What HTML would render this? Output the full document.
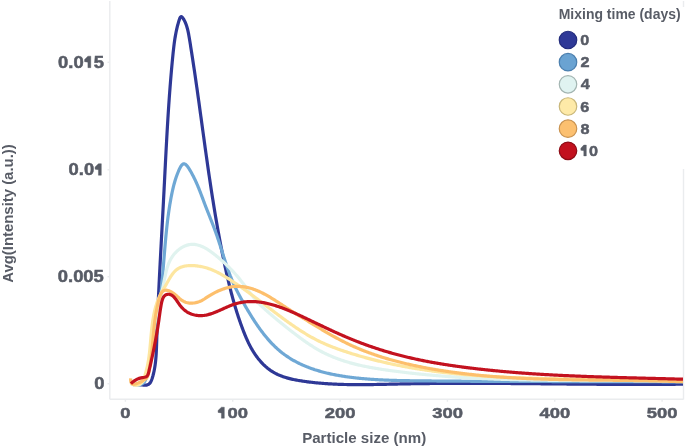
<!DOCTYPE html>
<html><head><meta charset="utf-8"><style>
html,body{margin:0;padding:0;background:#fff;width:685px;height:448px;overflow:hidden}
svg{display:block;filter:blur(0.5px)}
text{font-family:"Liberation Sans",sans-serif;font-weight:bold;fill:#585c66}
.dg{stroke:#585c66;stroke-width:0.5px}
.one path{fill:#585c66;stroke:#585c66;stroke-width:0.4px;stroke-linejoin:round}
.tk line{stroke:#eaecee;stroke-width:1.4}
.curves path{fill:none;stroke-width:3.2;stroke-linejoin:round;stroke-linecap:butt}
</style></head><body>
<svg width="685" height="448" viewBox="0 0 685 448">
<rect x="0" y="0" width="685" height="448" fill="#fff"/>
<g class="tk">
<line x1="109.8" y1="1" x2="109.8" y2="399.3"/>
<line x1="109.8" y1="399.3" x2="683.5" y2="399.3"/>
<line x1="683.5" y1="1" x2="683.5" y2="7"/>
<line x1="683.5" y1="169" x2="683.5" y2="399.5"/>
<line x1="107.5" y1="62.3" x2="109.5" y2="62.3"/>
<line x1="107.5" y1="169.8" x2="109.5" y2="169.8"/>
<line x1="107.5" y1="276.7" x2="109.5" y2="276.7"/>
<line x1="107.5" y1="383.7" x2="109.5" y2="383.7"/>
<line x1="125.40" y1="399.5" x2="125.40" y2="401.8"/>
<line x1="232.74" y1="399.5" x2="232.74" y2="401.8"/>
<line x1="340.08" y1="399.5" x2="340.08" y2="401.8"/>
<line x1="447.42" y1="399.5" x2="447.42" y2="401.8"/>
<line x1="554.76" y1="399.5" x2="554.76" y2="401.8"/>
<line x1="662.10" y1="399.5" x2="662.10" y2="401.8"/>
</g>
<g transform="translate(58.04,67.67) scale(1.130,1)"><text style="font-size:16.30px" class="dg">0.0<tspan style="fill:none;stroke:none">1</tspan>5</text><g class="one"><path d="M26.44,-11.49 L28.98,-11.49 L28.98,0.00 L26.44,0.00 L26.44,-5.54 L23.47,-6.03 L23.47,-8.15 Z"/></g></g>
<g transform="translate(68.56,175.22) scale(1.130,1)"><text style="font-size:16.30px" class="dg">0.0<tspan style="fill:none;stroke:none">1</tspan></text><g class="one"><path d="M26.44,-11.49 L28.98,-11.49 L28.98,0.00 L26.44,0.00 L26.44,-5.54 L23.47,-6.03 L23.47,-8.15 Z"/></g></g>
<text transform="translate(57.79,281.92) scale(1.130,1)" style="font-size:16.30px" class="dg" >0.005</text>
<text transform="translate(94.33,389.02) scale(1.130,1)" style="font-size:16.30px" class="dg" >0</text>
<text transform="translate(120.33,418.15) scale(1.190,1)" style="font-size:15.50px" class="dg" >0</text>
<g transform="translate(217.15,418.15) scale(1.190,1)"><text style="font-size:15.50px" class="dg"><tspan style="fill:none;stroke:none">1</tspan>00</text><g class="one"><path d="M3.60,-10.93 L6.01,-10.93 L6.01,0.00 L3.60,0.00 L3.60,-5.27 L0.78,-5.74 L0.78,-7.75 Z"/></g></g>
<text transform="translate(324.77,418.15) scale(1.190,1)" style="font-size:15.50px" class="dg" >200</text>
<text transform="translate(432.20,418.15) scale(1.190,1)" style="font-size:15.50px" class="dg" >300</text>
<text transform="translate(539.54,418.15) scale(1.190,1)" style="font-size:15.50px" class="dg" >400</text>
<text transform="translate(646.79,418.15) scale(1.190,1)" style="font-size:15.50px" class="dg" >500</text>
<text transform="translate(302.14,443.40) scale(0.980,1)" style="font-size:15.40px"  >Particle size (nm)</text>
<text transform="translate(558.72,19.40) scale(0.920,1)" style="font-size:15.20px"  >Mixing time (days)</text>
<text transform="translate(12.9,282.75) rotate(-90) scale(0.968,1)" style="font-size:15.40px">Avg(Intensity (a.u.))</text>

<circle cx="568" cy="40.00" r="8.75" fill="#2f3997" stroke="#232c7c" stroke-width="1.2"/>
<text transform="translate(580.35,45.08) scale(1.060,1)" style="font-size:15.30px" class="dg" >0</text>
<circle cx="568" cy="62.16" r="8.75" fill="#6aa3d2" stroke="#4b7fae" stroke-width="1.2"/>
<text transform="translate(580.51,67.31) scale(1.060,1)" style="font-size:15.30px" class="dg" >2</text>
<circle cx="568" cy="84.32" r="8.75" fill="#e0f3f1" stroke="#a3b5b2" stroke-width="1.2"/>
<text transform="translate(580.68,89.40) scale(1.060,1)" style="font-size:15.30px" class="dg" >4</text>
<circle cx="568" cy="106.48" r="8.75" fill="#feeaa8" stroke="#c9b77a" stroke-width="1.2"/>
<text transform="translate(580.35,111.56) scale(1.060,1)" style="font-size:15.30px" class="dg" >6</text>
<circle cx="568" cy="128.64" r="8.75" fill="#fcc070" stroke="#c9924f" stroke-width="1.2"/>
<text transform="translate(580.51,133.72) scale(1.060,1)" style="font-size:15.30px" class="dg" >8</text>
<circle cx="568" cy="150.80" r="8.75" fill="#c2111e" stroke="#8d0c16" stroke-width="1.2"/>
<g transform="translate(580.03,155.88) scale(1.060,1)"><text style="font-size:15.30px" class="dg"><tspan style="fill:none;stroke:none">1</tspan>0</text><g class="one"><path d="M3.55,-10.79 L5.94,-10.79 L5.94,0.00 L3.55,0.00 L3.55,-5.20 L0.77,-5.66 L0.77,-7.65 Z"/></g></g>

<g class="curves">
<path d="M133.00,384.60 L133.79,384.40 L134.67,384.30 L135.63,384.29 L136.64,384.34 L137.71,384.45 L138.81,384.58 L139.93,384.73 L141.06,384.89 L142.19,385.02 L143.31,385.12 L144.39,385.18 L145.43,385.16 L146.42,385.06 L147.34,384.87 L148.17,384.55 L148.92,384.11 L149.57,383.53 L150.14,382.85 L150.64,382.08 L151.08,381.23 L151.48,380.32 L151.83,379.37 L152.15,378.40 L152.45,377.42 L152.74,376.44 L153.02,375.46 L153.27,374.48 L153.52,373.50 L153.75,372.51 L153.97,371.53 L154.18,370.54 L154.37,369.56 L154.56,368.57 L154.73,367.58 L154.89,366.60 L155.04,365.61 L155.18,364.62 L155.31,363.63 L155.43,362.64 L155.55,361.65 L155.65,360.66 L155.75,359.66 L155.84,358.67 L155.92,357.68 L156.00,356.68 L156.07,355.69 L156.14,354.70 L156.20,353.70 L156.25,352.71 L156.31,351.71 L156.35,350.72 L156.40,349.72 L156.44,348.72 L156.48,347.73 L156.51,346.73 L156.55,345.73 L156.58,344.74 L156.61,343.74 L156.65,342.74 L156.68,341.75 L156.71,340.75 L156.75,339.75 L156.78,338.76 L156.81,337.76 L156.85,336.76 L156.88,335.76 L156.92,334.77 L156.95,333.77 L156.99,332.77 L157.02,331.77 L157.06,330.78 L157.10,329.78 L157.13,328.78 L157.17,327.78 L157.21,326.79 L157.25,325.79 L157.29,324.79 L157.33,323.79 L157.36,322.79 L157.40,321.80 L157.44,320.80 L157.48,319.80 L157.52,318.80 L157.56,317.80 L157.61,316.81 L157.65,315.81 L157.69,314.81 L157.73,313.81 L157.77,312.81 L157.81,311.81 L157.86,310.82 L157.90,309.82 L157.94,308.82 L157.99,307.82 L158.03,306.82 L158.08,305.82 L158.12,304.82 L158.16,303.83 L158.21,302.83 L158.25,301.83 L158.30,300.83 L158.35,299.83 L158.39,298.83 L158.44,297.83 L158.48,296.84 L158.53,295.84 L158.58,294.84 L158.62,293.84 L158.67,292.84 L158.72,291.84 L158.77,290.84 L158.81,289.84 L158.86,288.85 L158.91,287.85 L158.96,286.85 L159.01,285.85 L159.06,284.85 L159.10,283.85 L159.15,282.85 L159.20,281.85 L159.25,280.86 L159.30,279.86 L159.35,278.86 L159.40,277.86 L159.45,276.86 L159.50,275.86 L159.55,274.86 L159.60,273.86 L159.65,272.86 L159.71,271.87 L159.76,270.87 L159.81,269.87 L159.86,268.87 L159.91,267.87 L159.96,266.87 L160.01,265.87 L160.07,264.87 L160.12,263.88 L160.17,262.88 L160.22,261.88 L160.27,260.88 L160.33,259.88 L160.38,258.88 L160.43,257.88 L160.49,256.88 L160.54,255.89 L160.59,254.89 L160.64,253.89 L160.70,252.89 L160.75,251.89 L160.80,250.89 L160.86,249.89 L160.91,248.90 L160.96,247.90 L161.02,246.90 L161.07,245.90 L161.12,244.90 L161.18,243.90 L161.23,242.90 L161.28,241.91 L161.34,240.91 L161.39,239.91 L161.45,238.91 L161.50,237.91 L161.55,236.92 L161.61,235.92 L161.66,234.92 L161.72,233.92 L161.77,232.92 L161.82,231.92 L161.88,230.93 L161.93,229.93 L161.99,228.93 L162.04,227.93 L162.09,226.94 L162.15,225.94 L162.20,224.94 L162.25,223.94 L162.31,222.94 L162.36,221.95 L162.42,220.95 L162.47,219.95 L162.52,218.95 L162.58,217.96 L162.63,216.96 L162.68,215.96 L162.74,214.97 L162.79,213.97 L162.85,212.97 L162.90,211.97 L162.95,210.98 L163.00,209.98 L163.06,208.98 L163.11,207.99 L163.16,206.99 L163.22,205.99 L163.27,205.00 L163.32,204.00 L163.38,203.00 L163.43,202.01 L163.48,201.01 L163.53,200.01 L163.58,199.02 L163.64,198.02 L163.69,197.03 L163.74,196.03 L163.79,195.03 L163.84,194.04 L163.90,193.04 L163.95,192.05 L164.00,191.05 L164.05,190.05 L164.10,189.06 L164.15,188.06 L164.20,187.07 L164.25,186.07 L164.30,185.08 L164.35,184.08 L164.41,183.09 L164.46,182.09 L164.51,181.10 L164.56,180.10 L164.61,179.11 L164.66,178.11 L164.71,177.12 L164.76,176.12 L164.81,175.13 L164.86,174.13 L164.91,173.14 L164.96,172.14 L165.01,171.15 L165.06,170.15 L165.11,169.16 L165.16,168.16 L165.22,167.17 L165.27,166.17 L165.32,165.18 L165.37,164.18 L165.42,163.19 L165.47,162.19 L165.52,161.20 L165.57,160.20 L165.62,159.21 L165.68,158.21 L165.73,157.22 L165.78,156.22 L165.83,155.23 L165.88,154.23 L165.94,153.24 L165.99,152.25 L166.04,151.25 L166.09,150.26 L166.15,149.26 L166.20,148.27 L166.25,147.27 L166.31,146.28 L166.36,145.28 L166.41,144.29 L166.47,143.29 L166.52,142.30 L166.58,141.30 L166.63,140.31 L166.69,139.31 L166.74,138.31 L166.80,137.32 L166.85,136.32 L166.91,135.33 L166.97,134.33 L167.02,133.34 L167.08,132.34 L167.14,131.35 L167.19,130.35 L167.25,129.36 L167.31,128.36 L167.37,127.36 L167.43,126.37 L167.49,125.37 L167.55,124.38 L167.61,123.38 L167.67,122.38 L167.73,121.39 L167.79,120.39 L167.85,119.39 L167.91,118.40 L167.97,117.40 L168.04,116.40 L168.10,115.41 L168.16,114.41 L168.23,113.41 L168.29,112.42 L168.36,111.42 L168.42,110.42 L168.49,109.43 L168.55,108.43 L168.62,107.43 L168.69,106.43 L168.75,105.43 L168.82,104.44 L168.89,103.44 L168.96,102.44 L169.03,101.44 L169.10,100.44 L169.17,99.45 L169.24,98.45 L169.31,97.45 L169.38,96.45 L169.45,95.45 L169.53,94.45 L169.60,93.45 L169.68,92.45 L169.75,91.45 L169.83,90.45 L169.90,89.45 L169.98,88.45 L170.06,87.45 L170.13,86.45 L170.21,85.45 L170.29,84.45 L170.37,83.45 L170.45,82.45 L170.53,81.45 L170.61,80.45 L170.69,79.45 L170.78,78.44 L170.86,77.44 L170.94,76.44 L171.03,75.44 L171.11,74.44 L171.20,73.43 L171.29,72.43 L171.37,71.43 L171.46,70.43 L171.55,69.42 L171.64,68.42 L171.73,67.42 L171.82,66.41 L171.91,65.41 L172.01,64.40 L172.10,63.40 L172.19,62.40 L172.29,61.39 L172.39,60.39 L172.48,59.38 L172.58,58.38 L172.68,57.37 L172.78,56.36 L172.88,55.36 L172.98,54.35 L173.08,53.35 L173.18,52.34 L173.29,51.34 L173.40,50.33 L173.51,49.33 L173.62,48.33 L173.74,47.32 L173.86,46.32 L173.99,45.32 L174.11,44.32 L174.24,43.32 L174.38,42.33 L174.52,41.33 L174.66,40.34 L174.81,39.35 L174.97,38.36 L175.13,37.37 L175.29,36.38 L175.46,35.40 L175.64,34.42 L175.82,33.44 L176.01,32.47 L176.21,31.49 L176.41,30.52 L176.62,29.55 L176.84,28.59 L177.07,27.63 L177.30,26.67 L177.55,25.71 L177.80,24.76 L178.06,23.81 L178.33,22.87 L178.60,21.93 L178.89,20.99 L179.19,20.06 L179.50,19.14 L179.82,18.29 L180.17,17.56 L180.54,17.01 L180.96,16.70 L181.41,16.68 L181.89,16.93 L182.39,17.41 L182.91,18.05 L183.42,18.82 L183.91,19.66 L184.38,20.52 L184.81,21.40 L185.23,22.30 L185.61,23.21 L185.97,24.13 L186.31,25.07 L186.63,26.02 L186.93,26.98 L187.21,27.95 L187.47,28.93 L187.72,29.92 L187.95,30.91 L188.17,31.91 L188.38,32.92 L188.58,33.93 L188.77,34.95 L188.95,35.96 L189.13,36.98 L189.30,38.00 L189.47,39.02 L189.64,40.04 L189.80,41.06 L189.97,42.08 L190.13,43.09 L190.30,44.11 L190.46,45.12 L190.62,46.13 L190.78,47.14 L190.94,48.15 L191.10,49.16 L191.26,50.17 L191.42,51.17 L191.58,52.18 L191.74,53.18 L191.89,54.18 L192.05,55.19 L192.20,56.19 L192.36,57.19 L192.51,58.19 L192.67,59.18 L192.82,60.18 L192.97,61.18 L193.12,62.17 L193.27,63.17 L193.42,64.16 L193.57,65.15 L193.72,66.15 L193.87,67.14 L194.02,68.13 L194.16,69.12 L194.31,70.11 L194.46,71.10 L194.60,72.09 L194.75,73.07 L194.89,74.06 L195.04,75.05 L195.18,76.03 L195.33,77.02 L195.47,78.00 L195.61,78.99 L195.76,79.97 L195.90,80.96 L196.04,81.94 L196.18,82.93 L196.32,83.91 L196.46,84.89 L196.60,85.88 L196.74,86.86 L196.88,87.84 L197.02,88.82 L197.16,89.81 L197.30,90.79 L197.44,91.77 L197.58,92.75 L197.72,93.73 L197.85,94.72 L197.99,95.70 L198.13,96.68 L198.27,97.66 L198.40,98.65 L198.54,99.63 L198.68,100.61 L198.82,101.59 L198.95,102.58 L199.09,103.56 L199.22,104.54 L199.36,105.53 L199.50,106.51 L199.63,107.50 L199.77,108.48 L199.90,109.46 L200.04,110.45 L200.18,111.43 L200.31,112.42 L200.45,113.40 L200.58,114.39 L200.72,115.37 L200.85,116.36 L200.99,117.34 L201.12,118.33 L201.26,119.31 L201.39,120.30 L201.53,121.29 L201.66,122.27 L201.80,123.26 L201.93,124.24 L202.07,125.23 L202.21,126.22 L202.34,127.20 L202.48,128.19 L202.61,129.18 L202.75,130.16 L202.88,131.15 L203.02,132.14 L203.15,133.13 L203.29,134.11 L203.43,135.10 L203.56,136.09 L203.70,137.08 L203.83,138.06 L203.97,139.05 L204.11,140.04 L204.24,141.03 L204.38,142.02 L204.52,143.00 L204.65,143.99 L204.79,144.98 L204.93,145.97 L205.06,146.96 L205.20,147.95 L205.34,148.94 L205.48,149.92 L205.62,150.91 L205.75,151.90 L205.89,152.89 L206.03,153.88 L206.17,154.87 L206.31,155.86 L206.45,156.85 L206.59,157.83 L206.73,158.82 L206.87,159.81 L207.01,160.80 L207.15,161.79 L207.29,162.78 L207.43,163.77 L207.57,164.76 L207.72,165.75 L207.86,166.74 L208.00,167.73 L208.14,168.72 L208.29,169.70 L208.43,170.69 L208.58,171.68 L208.72,172.67 L208.86,173.66 L209.01,174.65 L209.15,175.64 L209.30,176.63 L209.45,177.62 L209.59,178.61 L209.74,179.60 L209.89,180.59 L210.03,181.58 L210.18,182.57 L210.33,183.55 L210.48,184.54 L210.63,185.53 L210.78,186.52 L210.93,187.51 L211.08,188.50 L211.23,189.49 L211.38,190.48 L211.54,191.47 L211.69,192.46 L211.84,193.44 L212.00,194.43 L212.15,195.42 L212.31,196.41 L212.46,197.40 L212.62,198.39 L212.77,199.38 L212.93,200.36 L213.09,201.35 L213.25,202.34 L213.40,203.33 L213.56,204.32 L213.72,205.31 L213.88,206.29 L214.04,207.28 L214.21,208.27 L214.37,209.26 L214.53,210.24 L214.69,211.23 L214.86,212.22 L215.02,213.21 L215.19,214.19 L215.35,215.18 L215.52,216.17 L215.69,217.15 L215.86,218.14 L216.02,219.13 L216.19,220.11 L216.36,221.10 L216.53,222.09 L216.71,223.07 L216.88,224.06 L217.05,225.05 L217.22,226.03 L217.40,227.02 L217.57,228.00 L217.75,228.99 L217.93,229.97 L218.10,230.96 L218.28,231.94 L218.46,232.93 L218.64,233.91 L218.82,234.90 L219.00,235.88 L219.18,236.87 L219.37,237.85 L219.55,238.84 L219.73,239.82 L219.92,240.80 L220.11,241.79 L220.29,242.77 L220.48,243.75 L220.67,244.74 L220.86,245.72 L221.05,246.70 L221.24,247.68 L221.43,248.67 L221.62,249.65 L221.82,250.63 L222.01,251.61 L222.21,252.59 L222.41,253.57 L222.60,254.56 L222.80,255.54 L223.00,256.52 L223.20,257.50 L223.40,258.48 L223.61,259.46 L223.81,260.44 L224.01,261.42 L224.22,262.40 L224.42,263.38 L224.63,264.36 L224.84,265.33 L225.05,266.31 L225.26,267.29 L225.47,268.27 L225.68,269.25 L225.90,270.22 L226.11,271.20 L226.33,272.18 L226.55,273.15 L226.77,274.13 L226.99,275.10 L227.21,276.08 L227.43,277.05 L227.66,278.03 L227.89,279.00 L228.11,279.97 L228.34,280.95 L228.57,281.92 L228.81,282.89 L229.04,283.86 L229.28,284.83 L229.51,285.80 L229.75,286.77 L230.00,287.74 L230.24,288.71 L230.48,289.68 L230.73,290.64 L230.98,291.61 L231.23,292.57 L231.48,293.54 L231.74,294.50 L231.99,295.47 L232.25,296.43 L232.51,297.39 L232.78,298.35 L233.04,299.31 L233.31,300.27 L233.58,301.23 L233.85,302.19 L234.12,303.14 L234.40,304.10 L234.68,305.05 L234.96,306.01 L235.24,306.96 L235.53,307.91 L235.82,308.87 L236.11,309.82 L236.40,310.77 L236.70,311.71 L237.00,312.66 L237.30,313.61 L237.60,314.55 L237.91,315.50 L238.22,316.44 L238.53,317.38 L238.85,318.32 L239.17,319.26 L239.49,320.20 L239.81,321.14 L240.14,322.08 L240.47,323.01 L240.80,323.95 L241.14,324.88 L241.47,325.81 L241.82,326.74 L242.16,327.67 L242.51,328.60 L242.86,329.53 L243.21,330.45 L243.57,331.38 L243.93,332.30 L244.30,333.22 L244.67,334.14 L245.04,335.06 L245.42,335.97 L245.80,336.89 L246.19,337.80 L246.59,338.71 L246.99,339.61 L247.40,340.52 L247.82,341.42 L248.24,342.32 L248.67,343.22 L249.12,344.11 L249.56,345.00 L250.02,345.89 L250.49,346.77 L250.97,347.65 L251.46,348.52 L251.96,349.40 L252.47,350.26 L252.99,351.13 L253.53,351.99 L254.08,352.84 L254.64,353.69 L255.21,354.54 L255.79,355.38 L256.39,356.22 L257.00,357.04 L257.63,357.86 L258.26,358.68 L258.91,359.48 L259.57,360.27 L260.24,361.06 L260.92,361.83 L261.61,362.59 L262.32,363.34 L263.04,364.07 L263.76,364.80 L264.50,365.50 L265.25,366.20 L266.01,366.87 L266.78,367.53 L267.56,368.18 L268.35,368.80 L269.14,369.41 L269.95,370.00 L270.77,370.57 L271.60,371.11 L272.44,371.64 L273.28,372.15 L274.14,372.64 L275.00,373.12 L275.87,373.57 L276.75,374.01 L277.63,374.44 L278.53,374.84 L279.43,375.23 L280.33,375.61 L281.25,375.97 L282.17,376.32 L283.09,376.65 L284.02,376.97 L284.96,377.28 L285.90,377.57 L286.85,377.85 L287.80,378.12 L288.75,378.38 L289.71,378.63 L290.68,378.87 L291.65,379.10 L292.62,379.32 L293.59,379.53 L294.57,379.73 L295.55,379.92 L296.53,380.11 L297.51,380.29 L298.50,380.46 L299.48,380.63 L300.47,380.79 L301.46,380.95 L302.45,381.10 L303.44,381.24 L304.43,381.39 L305.42,381.53 L306.42,381.66 L307.41,381.79 L308.40,381.92 L309.39,382.05 L310.38,382.17 L311.38,382.28 L312.37,382.40 L313.36,382.51 L314.36,382.62 L315.35,382.72 L316.34,382.82 L317.34,382.92 L318.33,383.01 L319.32,383.10 L320.32,383.19 L321.31,383.28 L322.31,383.36 L323.30,383.44 L324.30,383.51 L325.29,383.59 L326.29,383.66 L327.28,383.72 L328.28,383.79 L329.28,383.85 L330.27,383.91 L331.27,383.96 L332.26,384.02 L333.26,384.07 L334.26,384.12 L335.25,384.16 L336.25,384.21 L337.25,384.25 L338.25,384.29 L339.24,384.33 L340.24,384.36 L341.24,384.39 L342.24,384.42 L343.23,384.45 L344.23,384.48 L345.23,384.50 L346.23,384.52 L347.23,384.54 L348.23,384.56 L349.22,384.58 L350.22,384.59 L351.22,384.61 L352.22,384.62 L353.22,384.63 L354.22,384.64 L355.22,384.64 L356.22,384.65 L357.22,384.65 L358.22,384.65 L359.22,384.65 L360.22,384.65 L361.22,384.65 L362.22,384.64 L363.21,384.64 L364.21,384.63 L365.21,384.63 L366.22,384.62 L367.22,384.61 L368.22,384.60 L369.22,384.59 L370.22,384.57 L371.22,384.56 L372.22,384.55 L373.22,384.53 L374.22,384.51 L375.22,384.50 L376.22,384.48 L377.22,384.46 L378.22,384.44 L379.22,384.42 L380.22,384.41 L381.22,384.39 L382.22,384.36 L383.22,384.34 L384.22,384.32 L385.23,384.30 L386.23,384.28 L387.23,384.26 L388.23,384.24 L389.23,384.21 L390.23,384.19 L391.23,384.17 L392.23,384.15 L393.23,384.12 L394.23,384.10 L395.23,384.08 L396.23,384.06 L397.23,384.04 L398.24,384.02 L399.24,383.99 L400.24,383.97 L401.24,383.95 L402.24,383.93 L403.24,383.91 L404.24,383.89 L405.24,383.88 L406.24,383.86 L407.24,383.84 L408.24,383.82 L409.24,383.80 L410.24,383.79 L411.24,383.77 L412.24,383.76 L413.24,383.74 L414.24,383.72 L415.24,383.71 L416.24,383.69 L417.24,383.68 L418.24,383.67 L419.24,383.65 L420.24,383.64 L421.24,383.63 L422.24,383.61 L423.24,383.60 L424.24,383.59 L425.24,383.58 L426.24,383.57 L427.24,383.56 L428.24,383.54 L429.24,383.53 L430.24,383.52 L431.24,383.51 L432.24,383.51 L433.24,383.50 L434.24,383.49 L435.24,383.48 L436.24,383.47 L437.24,383.46 L438.24,383.46 L439.24,383.45 L440.24,383.44 L441.24,383.43 L442.24,383.43 L443.24,383.42 L444.24,383.42 L445.24,383.41 L446.24,383.40 L447.24,383.40 L448.24,383.39 L449.23,383.39 L450.23,383.39 L451.23,383.38 L452.23,383.38 L453.23,383.38 L454.23,383.37 L455.23,383.37 L456.23,383.37 L457.23,383.36 L458.23,383.36 L459.23,383.36 L460.23,383.36 L461.23,383.36 L462.23,383.36 L463.22,383.35 L464.22,383.35 L465.22,383.35 L466.22,383.35 L467.22,383.35 L468.22,383.35 L469.22,383.35 L470.22,383.35 L471.22,383.35 L472.22,383.36 L473.21,383.36 L474.21,383.36 L475.21,383.36 L476.21,383.36 L477.21,383.36 L478.21,383.37 L479.21,383.37 L480.21,383.37 L481.21,383.37 L482.20,383.38 L483.20,383.38 L484.20,383.38 L485.20,383.39 L486.20,383.39 L487.20,383.39 L488.20,383.40 L489.20,383.40 L490.19,383.41 L491.19,383.41 L492.19,383.41 L493.19,383.42 L494.19,383.42 L495.19,383.43 L496.19,383.44 L497.19,383.44 L498.18,383.45 L499.18,383.45 L500.18,383.46 L501.18,383.46 L502.18,383.47 L503.18,383.48 L504.18,383.48 L505.17,383.49 L506.17,383.50 L507.17,383.50 L508.17,383.51 L509.17,383.52 L510.17,383.52 L511.17,383.53 L512.16,383.54 L513.16,383.54 L514.16,383.55 L515.16,383.56 L516.16,383.57 L517.16,383.57 L518.16,383.58 L519.15,383.59 L520.15,383.60 L521.15,383.61 L522.15,383.62 L523.15,383.62 L524.15,383.63 L525.15,383.64 L526.14,383.65 L527.14,383.66 L528.14,383.67 L529.14,383.67 L530.14,383.68 L531.14,383.69 L532.13,383.70 L533.13,383.71 L534.13,383.72 L535.13,383.73 L536.13,383.74 L537.13,383.75 L538.13,383.76 L539.12,383.76 L540.12,383.77 L541.12,383.78 L542.12,383.79 L543.12,383.80 L544.12,383.81 L545.11,383.82 L546.11,383.83 L547.11,383.84 L548.11,383.85 L549.11,383.86 L550.11,383.87 L551.10,383.88 L552.10,383.89 L553.10,383.90 L554.10,383.91 L555.10,383.92 L556.10,383.92 L557.10,383.93 L558.09,383.94 L559.09,383.95 L560.09,383.96 L561.09,383.97 L562.09,383.98 L563.09,383.99 L564.09,384.00 L565.08,384.01 L566.08,384.02 L567.08,384.03 L568.08,384.04 L569.08,384.05 L570.08,384.06 L571.07,384.06 L572.07,384.07 L573.07,384.08 L574.07,384.09 L575.07,384.10 L576.07,384.11 L577.07,384.12 L578.06,384.13 L579.06,384.14 L580.06,384.14 L581.06,384.15 L582.06,384.16 L583.06,384.17 L584.06,384.18 L585.05,384.19 L586.05,384.19 L587.05,384.20 L588.05,384.21 L589.05,384.22 L590.05,384.23 L591.05,384.23 L592.05,384.24 L593.04,384.25 L594.04,384.26 L595.04,384.26 L596.04,384.27 L597.04,384.28 L598.04,384.28 L599.04,384.29 L600.04,384.30 L601.03,384.30 L602.03,384.31 L603.03,384.32 L604.03,384.32 L605.03,384.33 L606.03,384.34 L607.03,384.34 L608.03,384.35 L609.03,384.35 L610.02,384.36 L611.02,384.36 L612.02,384.37 L613.02,384.37 L614.02,384.38 L615.02,384.38 L616.02,384.39 L617.02,384.39 L618.02,384.40 L619.02,384.40 L620.01,384.40 L621.01,384.41 L622.01,384.41 L623.01,384.41 L624.01,384.42 L625.01,384.42 L626.01,384.42 L627.01,384.43 L628.01,384.43 L629.01,384.43 L630.01,384.43 L631.01,384.44 L632.00,384.44 L633.00,384.44 L634.00,384.44 L635.00,384.44 L636.00,384.44 L637.00,384.44 L638.00,384.44 L639.00,384.44 L640.00,384.44 L641.00,384.44 L642.00,384.44 L643.00,384.44 L644.00,384.44 L645.00,384.44 L646.00,384.44 L647.00,384.44 L648.00,384.43 L649.00,384.43 L650.00,384.43 L651.00,384.43 L652.00,384.42 L653.00,384.42 L654.00,384.42 L654.99,384.41 L655.99,384.41 L656.99,384.41 L657.99,384.40 L658.99,384.40 L659.99,384.39 L660.99,384.39 L661.99,384.38 L662.99,384.37 L663.99,384.37 L664.99,384.36 L665.99,384.36 L666.99,384.35 L667.99,384.34 L668.99,384.33 L670.00,384.33 L671.00,384.32 L672.00,384.31 L673.00,384.30 L674.00,384.29 L675.00,384.28 L676.00,384.27 L677.00,384.26 L678.00,384.25 L679.00,384.24 L680.00,384.23 L681.00,384.22 L682.00,384.21 L683.00,384.20" stroke="#2e3896"/>
<path d="M132.99,384.49 L133.92,384.75 L134.90,384.92 L135.92,385.02 L136.96,385.05 L138.01,384.99 L139.05,384.85 L140.05,384.63 L141.01,384.33 L141.91,383.94 L142.74,383.46 L143.47,382.90 L144.10,382.25 L144.64,381.52 L145.10,380.73 L145.50,379.88 L145.84,378.99 L146.15,378.06 L146.43,377.11 L146.69,376.15 L146.95,375.18 L147.20,374.21 L147.46,373.25 L147.71,372.28 L147.96,371.30 L148.21,370.33 L148.46,369.36 L148.71,368.39 L148.95,367.42 L149.19,366.44 L149.43,365.47 L149.67,364.49 L149.91,363.52 L150.14,362.54 L150.38,361.57 L150.61,360.59 L150.83,359.61 L151.06,358.63 L151.28,357.66 L151.50,356.68 L151.72,355.70 L151.93,354.72 L152.14,353.74 L152.35,352.76 L152.56,351.78 L152.76,350.80 L152.96,349.82 L153.16,348.84 L153.36,347.86 L153.55,346.88 L153.74,345.90 L153.93,344.92 L154.11,343.94 L154.30,342.96 L154.48,341.98 L154.65,340.99 L154.83,340.01 L155.00,339.03 L155.17,338.05 L155.34,337.06 L155.51,336.08 L155.67,335.10 L155.84,334.11 L156.00,333.13 L156.15,332.15 L156.31,331.16 L156.46,330.18 L156.61,329.19 L156.76,328.21 L156.91,327.22 L157.06,326.24 L157.20,325.25 L157.34,324.26 L157.48,323.28 L157.62,322.29 L157.76,321.31 L157.89,320.32 L158.02,319.33 L158.15,318.35 L158.28,317.36 L158.41,316.37 L158.54,315.38 L158.66,314.40 L158.78,313.41 L158.90,312.42 L159.02,311.43 L159.14,310.44 L159.26,309.45 L159.37,308.46 L159.49,307.47 L159.60,306.48 L159.71,305.49 L159.82,304.50 L159.93,303.51 L160.04,302.52 L160.14,301.53 L160.25,300.54 L160.35,299.55 L160.45,298.56 L160.56,297.57 L160.66,296.58 L160.76,295.59 L160.85,294.59 L160.95,293.60 L161.05,292.61 L161.14,291.62 L161.24,290.62 L161.33,289.63 L161.42,288.64 L161.52,287.64 L161.61,286.65 L161.70,285.66 L161.79,284.66 L161.88,283.67 L161.97,282.68 L162.05,281.68 L162.14,280.69 L162.23,279.69 L162.31,278.70 L162.40,277.70 L162.48,276.71 L162.57,275.71 L162.65,274.72 L162.74,273.72 L162.82,272.72 L162.90,271.73 L162.99,270.73 L163.07,269.74 L163.15,268.74 L163.23,267.74 L163.31,266.75 L163.40,265.75 L163.48,264.75 L163.56,263.75 L163.64,262.76 L163.72,261.76 L163.80,260.76 L163.88,259.76 L163.96,258.76 L164.05,257.76 L164.13,256.77 L164.21,255.77 L164.29,254.77 L164.37,253.77 L164.45,252.77 L164.54,251.77 L164.62,250.77 L164.70,249.77 L164.79,248.77 L164.87,247.77 L164.96,246.77 L165.04,245.77 L165.13,244.77 L165.21,243.78 L165.30,242.78 L165.39,241.78 L165.48,240.78 L165.57,239.78 L165.66,238.78 L165.75,237.78 L165.85,236.78 L165.94,235.79 L166.04,234.79 L166.14,233.79 L166.23,232.79 L166.33,231.80 L166.44,230.80 L166.54,229.80 L166.64,228.81 L166.75,227.81 L166.86,226.82 L166.97,225.82 L167.08,224.83 L167.19,223.84 L167.31,222.84 L167.42,221.85 L167.54,220.86 L167.66,219.87 L167.79,218.88 L167.91,217.89 L168.04,216.90 L168.17,215.91 L168.30,214.92 L168.44,213.94 L168.57,212.95 L168.71,211.96 L168.85,210.98 L169.00,209.99 L169.14,209.01 L169.29,208.03 L169.45,207.05 L169.60,206.07 L169.76,205.09 L169.92,204.11 L170.09,203.13 L170.25,202.16 L170.42,201.18 L170.60,200.21 L170.77,199.23 L170.95,198.26 L171.14,197.29 L171.32,196.32 L171.51,195.35 L171.71,194.38 L171.90,193.42 L172.10,192.45 L172.31,191.48 L172.52,190.52 L172.74,189.55 L172.96,188.59 L173.19,187.62 L173.43,186.65 L173.68,185.68 L173.93,184.71 L174.19,183.73 L174.47,182.76 L174.75,181.78 L175.05,180.79 L175.35,179.81 L175.67,178.82 L176.00,177.82 L176.34,176.82 L176.70,175.82 L177.07,174.81 L177.45,173.79 L177.85,172.77 L178.27,171.74 L178.70,170.70 L179.15,169.67 L179.61,168.66 L180.09,167.70 L180.59,166.79 L181.10,165.97 L181.63,165.25 L182.17,164.65 L182.73,164.19 L183.30,163.90 L183.89,163.78 L184.49,163.87 L185.11,164.13 L185.73,164.55 L186.35,165.11 L186.98,165.80 L187.61,166.58 L188.23,167.45 L188.84,168.38 L189.45,169.35 L190.04,170.33 L190.61,171.32 L191.17,172.30 L191.70,173.26 L192.22,174.21 L192.72,175.16 L193.21,176.09 L193.68,177.01 L194.14,177.93 L194.59,178.84 L195.03,179.75 L195.45,180.66 L195.87,181.56 L196.28,182.47 L196.68,183.38 L197.08,184.29 L197.47,185.20 L197.86,186.12 L198.24,187.04 L198.62,187.96 L198.99,188.88 L199.36,189.81 L199.72,190.73 L200.08,191.66 L200.44,192.59 L200.80,193.52 L201.15,194.45 L201.51,195.38 L201.86,196.32 L202.21,197.25 L202.56,198.18 L202.91,199.12 L203.25,200.05 L203.60,200.98 L203.95,201.91 L204.30,202.85 L204.65,203.78 L205.01,204.71 L205.36,205.63 L205.72,206.56 L206.08,207.49 L206.44,208.41 L206.80,209.34 L207.16,210.26 L207.53,211.18 L207.89,212.10 L208.26,213.03 L208.62,213.95 L208.99,214.87 L209.35,215.79 L209.72,216.71 L210.09,217.63 L210.45,218.55 L210.82,219.48 L211.18,220.40 L211.55,221.32 L211.91,222.25 L212.27,223.17 L212.63,224.10 L212.99,225.02 L213.34,225.95 L213.70,226.88 L214.05,227.81 L214.40,228.74 L214.75,229.68 L215.10,230.61 L215.44,231.55 L215.78,232.49 L216.12,233.43 L216.45,234.38 L216.78,235.32 L217.11,236.27 L217.43,237.22 L217.76,238.17 L218.08,239.12 L218.40,240.08 L218.71,241.03 L219.03,241.99 L219.34,242.95 L219.65,243.91 L219.96,244.87 L220.27,245.83 L220.57,246.79 L220.88,247.75 L221.18,248.71 L221.49,249.68 L221.79,250.64 L222.10,251.60 L222.40,252.56 L222.71,253.53 L223.01,254.49 L223.32,255.45 L223.62,256.41 L223.93,257.38 L224.23,258.34 L224.54,259.30 L224.85,260.25 L225.16,261.21 L225.48,262.17 L225.79,263.12 L226.11,264.08 L226.43,265.03 L226.75,265.98 L227.07,266.93 L227.40,267.88 L227.72,268.82 L228.06,269.77 L228.39,270.71 L228.73,271.64 L229.07,272.58 L229.42,273.51 L229.76,274.44 L230.12,275.37 L230.47,276.30 L230.84,277.22 L231.20,278.14 L231.57,279.05 L231.95,279.97 L232.33,280.88 L232.71,281.78 L233.10,282.68 L233.50,283.58 L233.90,284.47 L234.31,285.36 L234.72,286.25 L235.14,287.13 L235.56,288.01 L235.99,288.89 L236.42,289.76 L236.86,290.63 L237.31,291.50 L237.75,292.37 L238.20,293.23 L238.66,294.10 L239.12,294.96 L239.58,295.82 L240.05,296.69 L240.52,297.55 L241.00,298.41 L241.47,299.27 L241.96,300.13 L242.44,301.00 L242.92,301.86 L243.41,302.73 L243.90,303.60 L244.40,304.46 L244.90,305.33 L245.39,306.20 L245.90,307.07 L246.40,307.94 L246.91,308.81 L247.42,309.69 L247.94,310.56 L248.45,311.43 L248.97,312.30 L249.50,313.16 L250.03,314.03 L250.56,314.90 L251.09,315.77 L251.63,316.63 L252.17,317.49 L252.71,318.35 L253.26,319.21 L253.81,320.07 L254.37,320.93 L254.93,321.78 L255.49,322.63 L256.06,323.48 L256.63,324.32 L257.21,325.17 L257.79,326.00 L258.37,326.84 L258.96,327.67 L259.55,328.50 L260.15,329.32 L260.75,330.14 L261.35,330.96 L261.96,331.77 L262.58,332.58 L263.20,333.38 L263.82,334.18 L264.45,334.97 L265.08,335.76 L265.72,336.54 L266.36,337.31 L267.01,338.08 L267.67,338.85 L268.32,339.61 L268.99,340.36 L269.66,341.11 L270.33,341.85 L271.01,342.58 L271.70,343.30 L272.39,344.02 L273.08,344.73 L273.78,345.44 L274.49,346.13 L275.20,346.82 L275.92,347.50 L276.64,348.18 L277.37,348.84 L278.11,349.50 L278.85,350.14 L279.60,350.78 L280.35,351.41 L281.11,352.03 L281.88,352.64 L282.65,353.25 L283.43,353.84 L284.22,354.42 L285.01,355.00 L285.80,355.56 L286.61,356.12 L287.41,356.67 L288.23,357.21 L289.05,357.74 L289.87,358.26 L290.70,358.77 L291.54,359.28 L292.38,359.77 L293.22,360.26 L294.07,360.74 L294.93,361.21 L295.79,361.68 L296.65,362.13 L297.52,362.58 L298.40,363.02 L299.28,363.45 L300.16,363.88 L301.05,364.29 L301.94,364.70 L302.84,365.11 L303.74,365.50 L304.65,365.89 L305.56,366.27 L306.47,366.64 L307.39,367.01 L308.31,367.36 L309.23,367.72 L310.16,368.06 L311.09,368.40 L312.03,368.73 L312.97,369.06 L313.91,369.37 L314.85,369.69 L315.80,369.99 L316.75,370.29 L317.71,370.58 L318.67,370.87 L319.63,371.15 L320.59,371.43 L321.55,371.70 L322.52,371.96 L323.49,372.22 L324.47,372.47 L325.44,372.72 L326.42,372.96 L327.40,373.19 L328.38,373.42 L329.37,373.64 L330.35,373.86 L331.34,374.08 L332.33,374.29 L333.33,374.49 L334.32,374.69 L335.31,374.88 L336.31,375.07 L337.31,375.26 L338.31,375.44 L339.31,375.61 L340.31,375.79 L341.31,375.95 L342.32,376.12 L343.32,376.27 L344.33,376.43 L345.33,376.58 L346.34,376.72 L347.35,376.87 L348.36,377.00 L349.37,377.14 L350.37,377.27 L351.38,377.40 L352.39,377.52 L353.40,377.64 L354.41,377.76 L355.42,377.87 L356.43,377.98 L357.44,378.09 L358.45,378.19 L359.46,378.30 L360.47,378.39 L361.48,378.49 L362.49,378.58 L363.49,378.67 L364.50,378.76 L365.50,378.84 L366.51,378.93 L367.51,379.01 L368.52,379.08 L369.52,379.16 L370.52,379.23 L371.52,379.30 L372.52,379.37 L373.52,379.44 L374.52,379.50 L375.52,379.56 L376.52,379.62 L377.52,379.68 L378.51,379.74 L379.51,379.79 L380.50,379.84 L381.50,379.89 L382.50,379.94 L383.49,379.99 L384.48,380.03 L385.48,380.07 L386.47,380.12 L387.46,380.16 L388.46,380.19 L389.45,380.23 L390.44,380.27 L391.43,380.30 L392.42,380.33 L393.42,380.36 L394.41,380.39 L395.40,380.42 L396.39,380.45 L397.38,380.48 L398.37,380.50 L399.36,380.52 L400.35,380.55 L401.34,380.57 L402.33,380.59 L403.31,380.61 L404.30,380.63 L405.29,380.65 L406.28,380.67 L407.27,380.68 L408.26,380.70 L409.25,380.72 L410.24,380.73 L411.23,380.74 L412.22,380.76 L413.21,380.77 L414.20,380.79 L415.19,380.80 L416.17,380.81 L417.16,380.82 L418.15,380.83 L419.14,380.85 L420.13,380.86 L421.12,380.87 L422.12,380.88 L423.11,380.89 L424.10,380.90 L425.09,380.91 L426.08,380.92 L427.07,380.93 L428.06,380.94 L429.06,380.95 L430.05,380.96 L431.04,380.97 L432.03,380.98 L433.03,380.99 L434.02,381.00 L435.01,381.01 L436.01,381.02 L437.00,381.03 L437.99,381.04 L438.99,381.05 L439.98,381.06 L440.98,381.07 L441.97,381.08 L442.96,381.08 L443.96,381.09 L444.95,381.10 L445.95,381.11 L446.94,381.12 L447.94,381.12 L448.94,381.13 L449.93,381.14 L450.93,381.15 L451.92,381.16 L452.92,381.16 L453.92,381.17 L454.91,381.18 L455.91,381.18 L456.91,381.19 L457.90,381.20 L458.90,381.21 L459.90,381.21 L460.90,381.22 L461.89,381.23 L462.89,381.23 L463.89,381.24 L464.89,381.24 L465.89,381.25 L466.88,381.26 L467.88,381.26 L468.88,381.27 L469.88,381.27 L470.88,381.28 L471.88,381.29 L472.88,381.29 L473.88,381.30 L474.88,381.30 L475.88,381.31 L476.87,381.31 L477.87,381.32 L478.87,381.32 L479.87,381.33 L480.87,381.33 L481.87,381.34 L482.88,381.34 L483.88,381.35 L484.88,381.35 L485.88,381.36 L486.88,381.36 L487.88,381.36 L488.88,381.37 L489.88,381.37 L490.88,381.38 L491.88,381.38 L492.88,381.38 L493.89,381.39 L494.89,381.39 L495.89,381.40 L496.89,381.40 L497.89,381.40 L498.89,381.41 L499.90,381.41 L500.90,381.41 L501.90,381.42 L502.90,381.42 L503.90,381.42 L504.91,381.43 L505.91,381.43 L506.91,381.43 L507.91,381.44 L508.92,381.44 L509.92,381.44 L510.92,381.44 L511.92,381.45 L512.93,381.45 L513.93,381.45 L514.93,381.46 L515.94,381.46 L516.94,381.46 L517.94,381.46 L518.95,381.47 L519.95,381.47 L520.95,381.47 L521.96,381.47 L522.96,381.48 L523.96,381.48 L524.97,381.48 L525.97,381.48 L526.97,381.48 L527.98,381.49 L528.98,381.49 L529.98,381.49 L530.99,381.49 L531.99,381.49 L533.00,381.50 L534.00,381.50 L535.00,381.50 L536.01,381.50 L537.01,381.50 L538.02,381.50 L539.02,381.51 L540.02,381.51 L541.03,381.51 L542.03,381.51 L543.04,381.51 L544.04,381.51 L545.04,381.52 L546.05,381.52 L547.05,381.52 L548.06,381.52 L549.06,381.52 L550.06,381.52 L551.07,381.52 L552.07,381.53 L553.08,381.53 L554.08,381.53 L555.08,381.53 L556.09,381.53 L557.09,381.53 L558.10,381.53 L559.10,381.54 L560.10,381.54 L561.11,381.54 L562.11,381.54 L563.12,381.54 L564.12,381.54 L565.12,381.54 L566.13,381.54 L567.13,381.55 L568.14,381.55 L569.14,381.55 L570.14,381.55 L571.15,381.55 L572.15,381.55 L573.15,381.55 L574.16,381.55 L575.16,381.56 L576.17,381.56 L577.17,381.56 L578.17,381.56 L579.18,381.56 L580.18,381.56 L581.18,381.56 L582.19,381.56 L583.19,381.57 L584.19,381.57 L585.20,381.57 L586.20,381.57 L587.20,381.57 L588.21,381.57 L589.21,381.57 L590.21,381.58 L591.21,381.58 L592.22,381.58 L593.22,381.58 L594.22,381.58 L595.23,381.58 L596.23,381.58 L597.23,381.59 L598.23,381.59 L599.23,381.59 L600.24,381.59 L601.24,381.59 L602.24,381.59 L603.24,381.60 L604.25,381.60 L605.25,381.60 L606.25,381.60 L607.25,381.60 L608.25,381.60 L609.25,381.61 L610.25,381.61 L611.26,381.61 L612.26,381.61 L613.26,381.61 L614.26,381.62 L615.26,381.62 L616.26,381.62 L617.26,381.62 L618.26,381.62 L619.26,381.63 L620.26,381.63 L621.26,381.63 L622.26,381.63 L623.26,381.64 L624.26,381.64 L625.26,381.64 L626.26,381.64 L627.26,381.65 L628.26,381.65 L629.26,381.65 L630.26,381.65 L631.26,381.66 L632.26,381.66 L633.26,381.66 L634.26,381.67 L635.25,381.67 L636.25,381.67 L637.25,381.68 L638.25,381.68 L639.25,381.68 L640.25,381.69 L641.24,381.69 L642.24,381.69 L643.24,381.70 L644.24,381.70 L645.23,381.70 L646.23,381.71 L647.23,381.71 L648.22,381.72 L649.22,381.72 L650.22,381.72 L651.21,381.73 L652.21,381.73 L653.20,381.74 L654.20,381.74 L655.20,381.74 L656.19,381.75 L657.19,381.75 L658.18,381.76 L659.18,381.76 L660.17,381.77 L661.17,381.77 L662.16,381.78 L663.15,381.78 L664.15,381.79 L665.14,381.79 L666.14,381.80 L667.13,381.80 L668.12,381.81 L669.12,381.81 L670.11,381.82 L671.10,381.82 L672.09,381.83 L673.09,381.84 L674.08,381.84 L675.07,381.85 L676.06,381.85 L677.05,381.86 L678.04,381.87 L679.04,381.87 L680.03,381.88 L681.02,381.89 L682.01,381.89 L683.00,381.90" stroke="#6fa8d5"/>
<path d="M131.00,384.00 L132.20,384.49 L133.35,384.83 L134.45,385.05 L135.50,385.14 L136.50,385.12 L137.46,384.99 L138.37,384.76 L139.23,384.44 L140.05,384.03 L140.82,383.54 L141.55,382.99 L142.23,382.37 L142.87,381.69 L143.47,380.97 L144.02,380.21 L144.54,379.42 L145.02,378.59 L145.47,377.74 L145.89,376.88 L146.27,376.01 L146.63,375.11 L146.97,374.21 L147.27,373.29 L147.56,372.36 L147.82,371.42 L148.06,370.47 L148.28,369.51 L148.48,368.53 L148.66,367.55 L148.83,366.57 L148.99,365.57 L149.13,364.57 L149.26,363.56 L149.38,362.55 L149.49,361.53 L149.59,360.51 L149.69,359.49 L149.78,358.46 L149.86,357.44 L149.95,356.41 L150.03,355.38 L150.12,354.35 L150.21,353.33 L150.30,352.30 L150.39,351.28 L150.49,350.26 L150.59,349.25 L150.70,348.23 L150.82,347.22 L150.94,346.22 L151.06,345.21 L151.19,344.21 L151.32,343.21 L151.46,342.21 L151.60,341.21 L151.74,340.22 L151.89,339.23 L152.04,338.24 L152.20,337.25 L152.36,336.27 L152.52,335.28 L152.69,334.30 L152.86,333.32 L153.03,332.34 L153.20,331.36 L153.38,330.39 L153.57,329.41 L153.75,328.44 L153.94,327.47 L154.13,326.50 L154.32,325.53 L154.52,324.56 L154.71,323.59 L154.91,322.62 L155.12,321.66 L155.32,320.69 L155.53,319.73 L155.73,318.76 L155.94,317.80 L156.15,316.83 L156.37,315.87 L156.58,314.91 L156.79,313.95 L157.01,312.98 L157.23,312.02 L157.45,311.06 L157.67,310.10 L157.89,309.13 L158.11,308.17 L158.33,307.21 L158.55,306.24 L158.77,305.28 L159.00,304.31 L159.22,303.35 L159.44,302.38 L159.66,301.42 L159.89,300.45 L160.11,299.48 L160.33,298.51 L160.55,297.54 L160.78,296.57 L161.00,295.59 L161.22,294.62 L161.44,293.64 L161.66,292.67 L161.87,291.69 L162.09,290.71 L162.30,289.73 L162.52,288.74 L162.73,287.76 L162.94,286.77 L163.15,285.78 L163.36,284.79 L163.57,283.80 L163.77,282.80 L163.97,281.81 L164.17,280.81 L164.37,279.80 L164.57,278.80 L164.77,277.80 L164.98,276.80 L165.19,275.80 L165.40,274.80 L165.62,273.80 L165.85,272.81 L166.09,271.82 L166.33,270.83 L166.59,269.85 L166.86,268.88 L167.14,267.91 L167.44,266.95 L167.75,265.99 L168.09,265.05 L168.43,264.11 L168.80,263.18 L169.19,262.26 L169.60,261.36 L170.04,260.46 L170.50,259.58 L170.98,258.71 L171.49,257.85 L172.03,257.01 L172.59,256.18 L173.19,255.37 L173.81,254.57 L174.45,253.80 L175.12,253.04 L175.82,252.31 L176.53,251.60 L177.27,250.91 L178.03,250.25 L178.81,249.62 L179.60,249.01 L180.41,248.44 L181.24,247.89 L182.08,247.38 L182.94,246.90 L183.80,246.46 L184.68,246.06 L185.57,245.69 L186.47,245.37 L187.37,245.08 L188.28,244.84 L189.20,244.64 L190.12,244.48 L191.04,244.38 L191.97,244.32 L192.90,244.31 L193.82,244.35 L194.75,244.43 L195.68,244.56 L196.61,244.73 L197.53,244.94 L198.46,245.19 L199.38,245.48 L200.30,245.81 L201.22,246.17 L202.14,246.56 L203.05,246.98 L203.96,247.43 L204.87,247.90 L205.77,248.41 L206.67,248.93 L207.56,249.48 L208.45,250.04 L209.33,250.63 L210.20,251.23 L211.07,251.85 L211.94,252.48 L212.80,253.11 L213.64,253.76 L214.49,254.42 L215.32,255.08 L216.15,255.75 L216.96,256.42 L217.77,257.09 L218.57,257.76 L219.36,258.43 L220.14,259.10 L220.91,259.77 L221.68,260.44 L222.43,261.11 L223.18,261.78 L223.92,262.45 L224.66,263.13 L225.38,263.80 L226.10,264.48 L226.81,265.16 L227.52,265.84 L228.22,266.52 L228.91,267.20 L229.59,267.89 L230.27,268.58 L230.95,269.27 L231.62,269.97 L232.28,270.67 L232.94,271.37 L233.59,272.08 L234.24,272.79 L234.89,273.50 L235.53,274.22 L236.16,274.94 L236.79,275.67 L237.42,276.40 L238.05,277.14 L238.67,277.88 L239.29,278.63 L239.90,279.38 L240.51,280.14 L241.12,280.90 L241.73,281.68 L242.34,282.45 L242.94,283.24 L243.54,284.03 L244.14,284.82 L244.74,285.62 L245.34,286.43 L245.94,287.24 L246.54,288.06 L247.14,288.87 L247.74,289.69 L248.34,290.51 L248.95,291.33 L249.56,292.15 L250.17,292.97 L250.78,293.78 L251.40,294.60 L252.02,295.41 L252.64,296.21 L253.27,297.01 L253.90,297.81 L254.54,298.60 L255.19,299.38 L255.84,300.15 L256.50,300.92 L257.17,301.67 L257.85,302.42 L258.53,303.15 L259.22,303.88 L259.92,304.59 L260.62,305.29 L261.34,305.99 L262.06,306.67 L262.78,307.35 L263.51,308.02 L264.24,308.69 L264.98,309.35 L265.72,310.01 L266.46,310.66 L267.21,311.31 L267.96,311.96 L268.70,312.61 L269.45,313.26 L270.20,313.90 L270.95,314.55 L271.71,315.19 L272.46,315.83 L273.22,316.47 L273.97,317.11 L274.73,317.75 L275.49,318.39 L276.25,319.02 L277.02,319.66 L277.78,320.29 L278.55,320.92 L279.31,321.55 L280.08,322.18 L280.85,322.81 L281.62,323.44 L282.40,324.06 L283.17,324.69 L283.95,325.32 L284.72,325.94 L285.50,326.56 L286.28,327.18 L287.07,327.80 L287.85,328.42 L288.64,329.04 L289.42,329.66 L290.21,330.28 L291.00,330.90 L291.80,331.51 L292.59,332.13 L293.39,332.74 L294.18,333.35 L294.98,333.97 L295.78,334.58 L296.59,335.19 L297.39,335.80 L298.20,336.40 L299.01,337.01 L299.82,337.61 L300.63,338.21 L301.45,338.81 L302.26,339.40 L303.08,339.99 L303.91,340.58 L304.73,341.16 L305.56,341.74 L306.38,342.32 L307.22,342.89 L308.05,343.46 L308.89,344.02 L309.73,344.58 L310.57,345.13 L311.41,345.68 L312.26,346.22 L313.11,346.75 L313.96,347.28 L314.81,347.81 L315.67,348.33 L316.53,348.84 L317.40,349.34 L318.26,349.84 L319.13,350.33 L320.01,350.81 L320.88,351.28 L321.76,351.75 L322.64,352.21 L323.53,352.66 L324.42,353.11 L325.31,353.54 L326.20,353.97 L327.10,354.39 L328.00,354.81 L328.90,355.22 L329.81,355.62 L330.72,356.01 L331.63,356.40 L332.54,356.78 L333.46,357.15 L334.37,357.52 L335.30,357.88 L336.22,358.24 L337.14,358.59 L338.07,358.93 L339.00,359.27 L339.94,359.60 L340.87,359.92 L341.81,360.24 L342.75,360.55 L343.69,360.86 L344.63,361.16 L345.58,361.45 L346.53,361.75 L347.48,362.03 L348.43,362.31 L349.38,362.59 L350.34,362.85 L351.29,363.12 L352.25,363.38 L353.21,363.63 L354.18,363.88 L355.14,364.13 L356.11,364.37 L357.07,364.61 L358.04,364.84 L359.01,365.07 L359.98,365.29 L360.96,365.51 L361.93,365.73 L362.91,365.94 L363.88,366.15 L364.86,366.35 L365.84,366.55 L366.82,366.75 L367.80,366.94 L368.79,367.13 L369.77,367.32 L370.75,367.50 L371.74,367.68 L372.73,367.86 L373.71,368.03 L374.70,368.20 L375.69,368.37 L376.68,368.54 L377.67,368.70 L378.66,368.86 L379.65,369.02 L380.64,369.17 L381.64,369.33 L382.63,369.48 L383.62,369.63 L384.62,369.77 L385.61,369.92 L386.60,370.06 L387.60,370.20 L388.59,370.34 L389.59,370.48 L390.59,370.62 L391.58,370.75 L392.58,370.88 L393.57,371.02 L394.57,371.15 L395.56,371.28 L396.56,371.41 L397.55,371.53 L398.55,371.66 L399.55,371.78 L400.54,371.91 L401.54,372.03 L402.53,372.15 L403.53,372.27 L404.52,372.39 L405.52,372.51 L406.52,372.62 L407.51,372.74 L408.51,372.85 L409.50,372.97 L410.50,373.08 L411.49,373.19 L412.49,373.30 L413.49,373.41 L414.48,373.52 L415.48,373.62 L416.47,373.73 L417.47,373.83 L418.47,373.94 L419.46,374.04 L420.46,374.14 L421.45,374.24 L422.45,374.34 L423.45,374.44 L424.44,374.53 L425.44,374.63 L426.43,374.72 L427.43,374.82 L428.43,374.91 L429.42,375.00 L430.42,375.09 L431.41,375.18 L432.41,375.27 L433.41,375.36 L434.40,375.44 L435.40,375.53 L436.39,375.61 L437.39,375.70 L438.39,375.78 L439.38,375.86 L440.38,375.94 L441.38,376.02 L442.37,376.10 L443.37,376.18 L444.36,376.25 L445.36,376.33 L446.36,376.40 L447.35,376.48 L448.35,376.55 L449.35,376.62 L450.34,376.69 L451.34,376.76 L452.34,376.83 L453.33,376.90 L454.33,376.97 L455.32,377.04 L456.32,377.10 L457.32,377.17 L458.31,377.23 L459.31,377.30 L460.31,377.36 L461.30,377.42 L462.30,377.48 L463.30,377.54 L464.29,377.60 L465.29,377.66 L466.29,377.72 L467.28,377.77 L468.28,377.83 L469.28,377.89 L470.27,377.94 L471.27,377.99 L472.27,378.05 L473.26,378.10 L474.26,378.15 L475.26,378.20 L476.25,378.25 L477.25,378.30 L478.25,378.35 L479.24,378.40 L480.24,378.44 L481.24,378.49 L482.23,378.54 L483.23,378.58 L484.23,378.63 L485.23,378.67 L486.22,378.71 L487.22,378.75 L488.22,378.80 L489.21,378.84 L490.21,378.88 L491.21,378.92 L492.20,378.95 L493.20,378.99 L494.20,379.03 L495.20,379.07 L496.19,379.10 L497.19,379.14 L498.19,379.17 L499.18,379.21 L500.18,379.24 L501.18,379.28 L502.18,379.31 L503.17,379.34 L504.17,379.37 L505.17,379.40 L506.16,379.43 L507.16,379.46 L508.16,379.49 L509.16,379.52 L510.15,379.55 L511.15,379.58 L512.15,379.60 L513.15,379.63 L514.14,379.66 L515.14,379.68 L516.14,379.71 L517.14,379.73 L518.13,379.76 L519.13,379.78 L520.13,379.80 L521.13,379.83 L522.12,379.85 L523.12,379.87 L524.12,379.89 L525.12,379.91 L526.11,379.93 L527.11,379.95 L528.11,379.97 L529.11,379.99 L530.10,380.01 L531.10,380.03 L532.10,380.04 L533.10,380.06 L534.10,380.08 L535.09,380.10 L536.09,380.11 L537.09,380.13 L538.09,380.14 L539.08,380.16 L540.08,380.17 L541.08,380.19 L542.08,380.20 L543.08,380.21 L544.07,380.23 L545.07,380.24 L546.07,380.25 L547.07,380.27 L548.07,380.28 L549.06,380.29 L550.06,380.30 L551.06,380.31 L552.06,380.32 L553.06,380.33 L554.06,380.34 L555.05,380.35 L556.05,380.36 L557.05,380.37 L558.05,380.38 L559.05,380.39 L560.04,380.40 L561.04,380.41 L562.04,380.42 L563.04,380.42 L564.04,380.43 L565.04,380.44 L566.03,380.45 L567.03,380.45 L568.03,380.46 L569.03,380.47 L570.03,380.47 L571.03,380.48 L572.03,380.49 L573.02,380.49 L574.02,380.50 L575.02,380.50 L576.02,380.51 L577.02,380.51 L578.02,380.52 L579.02,380.52 L580.01,380.53 L581.01,380.53 L582.01,380.54 L583.01,380.54 L584.01,380.55 L585.01,380.55 L586.01,380.56 L587.01,380.56 L588.01,380.57 L589.00,380.57 L590.00,380.57 L591.00,380.58 L592.00,380.58 L593.00,380.59 L594.00,380.59 L595.00,380.59 L596.00,380.60 L597.00,380.60 L597.99,380.61 L598.99,380.61 L599.99,380.61 L600.99,380.62 L601.99,380.62 L602.99,380.62 L603.99,380.63 L604.99,380.63 L605.99,380.64 L606.99,380.64 L607.99,380.64 L608.99,380.65 L609.99,380.65 L610.98,380.66 L611.98,380.66 L612.98,380.66 L613.98,380.67 L614.98,380.67 L615.98,380.68 L616.98,380.68 L617.98,380.69 L618.98,380.69 L619.98,380.70 L620.98,380.70 L621.98,380.71 L622.98,380.71 L623.98,380.72 L624.98,380.72 L625.98,380.73 L626.98,380.74 L627.98,380.74 L628.98,380.75 L629.98,380.75 L630.98,380.76 L631.98,380.77 L632.98,380.77 L633.98,380.78 L634.98,380.79 L635.98,380.80 L636.98,380.80 L637.98,380.81 L638.98,380.82 L639.98,380.83 L640.98,380.84 L641.98,380.85 L642.98,380.86 L643.98,380.87 L644.98,380.88 L645.98,380.89 L646.98,380.90 L647.98,380.91 L648.98,380.92 L649.98,380.93 L650.98,380.94 L651.98,380.95 L652.98,380.96 L653.98,380.98 L654.98,380.99 L655.98,381.00 L656.98,381.01 L657.98,381.03 L658.98,381.04 L659.98,381.06 L660.98,381.07 L661.98,381.09 L662.98,381.10 L663.98,381.12 L664.99,381.13 L665.99,381.15 L666.99,381.17 L667.99,381.19 L668.99,381.20 L669.99,381.22 L670.99,381.24 L671.99,381.26 L672.99,381.28 L673.99,381.30 L674.99,381.32 L675.99,381.34 L676.99,381.36 L678.00,381.38 L679.00,381.41 L680.00,381.43 L681.00,381.45 L682.00,381.48 L683.00,381.50" stroke="#e0f3ef"/>
<path d="M130.99,383.50 L132.28,384.13 L133.48,384.60 L134.60,384.91 L135.64,385.08 L136.62,385.12 L137.52,385.03 L138.36,384.82 L139.13,384.49 L139.85,384.07 L140.52,383.56 L141.13,382.95 L141.70,382.28 L142.22,381.53 L142.71,380.73 L143.16,379.87 L143.57,378.97 L143.96,378.04 L144.32,377.08 L144.66,376.10 L144.99,375.12 L145.30,374.14 L145.59,373.15 L145.88,372.17 L146.15,371.19 L146.41,370.20 L146.66,369.22 L146.89,368.24 L147.12,367.26 L147.34,366.28 L147.54,365.30 L147.74,364.32 L147.93,363.35 L148.11,362.37 L148.28,361.39 L148.44,360.41 L148.59,359.43 L148.74,358.45 L148.88,357.47 L149.02,356.49 L149.15,355.51 L149.27,354.53 L149.39,353.55 L149.50,352.57 L149.61,351.58 L149.71,350.60 L149.82,349.61 L149.91,348.63 L150.01,347.64 L150.10,346.65 L150.19,345.66 L150.28,344.67 L150.37,343.67 L150.46,342.68 L150.54,341.68 L150.63,340.68 L150.71,339.68 L150.80,338.68 L150.89,337.68 L150.98,336.68 L151.07,335.67 L151.16,334.67 L151.25,333.66 L151.35,332.66 L151.45,331.65 L151.55,330.65 L151.65,329.64 L151.76,328.64 L151.87,327.63 L151.99,326.63 L152.11,325.63 L152.24,324.63 L152.37,323.63 L152.50,322.63 L152.64,321.63 L152.79,320.64 L152.94,319.65 L153.10,318.65 L153.27,317.67 L153.44,316.68 L153.63,315.70 L153.81,314.72 L154.01,313.74 L154.22,312.77 L154.43,311.79 L154.65,310.83 L154.89,309.86 L155.13,308.90 L155.38,307.95 L155.64,307.00 L155.92,306.05 L156.20,305.11 L156.49,304.17 L156.80,303.24 L157.12,302.31 L157.44,301.39 L157.79,300.48 L158.14,299.56 L158.51,298.66 L158.89,297.76 L159.28,296.87 L159.69,295.98 L160.11,295.10 L160.55,294.23 L161.00,293.36 L161.46,292.50 L161.94,291.65 L162.43,290.80 L162.93,289.95 L163.43,289.11 L163.94,288.26 L164.45,287.41 L164.96,286.56 L165.47,285.70 L165.98,284.83 L166.48,283.96 L166.98,283.08 L167.47,282.20 L167.97,281.31 L168.46,280.43 L168.96,279.55 L169.46,278.67 L169.97,277.81 L170.50,276.96 L171.03,276.12 L171.57,275.30 L172.13,274.49 L172.71,273.71 L173.30,272.96 L173.92,272.23 L174.55,271.53 L175.22,270.87 L175.91,270.24 L176.62,269.64 L177.37,269.09 L178.15,268.58 L178.96,268.11 L179.81,267.69 L180.68,267.31 L181.58,266.97 L182.51,266.67 L183.45,266.41 L184.42,266.19 L185.41,266.00 L186.41,265.84 L187.43,265.72 L188.47,265.63 L189.51,265.57 L190.56,265.54 L191.62,265.54 L192.68,265.57 L193.74,265.62 L194.81,265.69 L195.87,265.79 L196.93,265.91 L197.98,266.05 L199.03,266.21 L200.06,266.39 L201.09,266.59 L202.10,266.80 L203.10,267.03 L204.09,267.27 L205.07,267.53 L206.03,267.80 L206.99,268.09 L207.94,268.39 L208.88,268.70 L209.80,269.03 L210.72,269.37 L211.64,269.73 L212.54,270.09 L213.44,270.47 L214.33,270.86 L215.21,271.26 L216.09,271.67 L216.96,272.09 L217.82,272.52 L218.68,272.97 L219.53,273.42 L220.39,273.88 L221.23,274.34 L222.07,274.82 L222.91,275.31 L223.75,275.80 L224.59,276.30 L225.42,276.80 L226.25,277.32 L227.08,277.83 L227.91,278.36 L228.73,278.89 L229.56,279.42 L230.39,279.96 L231.22,280.51 L232.05,281.05 L232.88,281.60 L233.71,282.16 L234.54,282.72 L235.38,283.28 L236.21,283.84 L237.04,284.41 L237.88,284.98 L238.71,285.55 L239.54,286.12 L240.38,286.70 L241.21,287.28 L242.04,287.86 L242.87,288.44 L243.69,289.02 L244.52,289.61 L245.34,290.19 L246.16,290.78 L246.97,291.37 L247.79,291.96 L248.60,292.55 L249.42,293.15 L250.23,293.74 L251.04,294.34 L251.85,294.93 L252.65,295.53 L253.46,296.13 L254.26,296.73 L255.06,297.33 L255.86,297.93 L256.66,298.53 L257.46,299.13 L258.26,299.73 L259.06,300.33 L259.85,300.94 L260.65,301.54 L261.44,302.14 L262.24,302.75 L263.03,303.35 L263.83,303.96 L264.62,304.56 L265.41,305.17 L266.20,305.77 L266.99,306.37 L267.79,306.98 L268.58,307.58 L269.37,308.18 L270.16,308.79 L270.95,309.39 L271.74,309.99 L272.53,310.59 L273.33,311.20 L274.12,311.80 L274.91,312.40 L275.70,312.99 L276.50,313.59 L277.29,314.19 L278.09,314.79 L278.88,315.38 L279.68,315.98 L280.48,316.57 L281.28,317.16 L282.08,317.75 L282.88,318.34 L283.68,318.93 L284.48,319.52 L285.29,320.10 L286.09,320.69 L286.90,321.27 L287.71,321.85 L288.52,322.43 L289.33,323.01 L290.14,323.58 L290.96,324.15 L291.77,324.73 L292.59,325.30 L293.41,325.86 L294.24,326.43 L295.06,326.99 L295.89,327.55 L296.71,328.10 L297.54,328.66 L298.38,329.21 L299.21,329.75 L300.05,330.30 L300.89,330.84 L301.73,331.38 L302.57,331.91 L303.42,332.44 L304.27,332.97 L305.12,333.49 L305.97,334.00 L306.83,334.52 L307.68,335.03 L308.55,335.53 L309.41,336.03 L310.28,336.53 L311.14,337.02 L312.02,337.50 L312.89,337.98 L313.77,338.46 L314.65,338.93 L315.53,339.40 L316.42,339.86 L317.31,340.31 L318.20,340.76 L319.10,341.20 L320.00,341.64 L320.90,342.07 L321.80,342.49 L322.71,342.91 L323.62,343.32 L324.54,343.73 L325.45,344.13 L326.37,344.52 L327.30,344.92 L328.22,345.30 L329.15,345.68 L330.08,346.06 L331.01,346.43 L331.94,346.80 L332.88,347.16 L333.82,347.52 L334.76,347.87 L335.70,348.22 L336.64,348.57 L337.58,348.91 L338.53,349.24 L339.48,349.58 L340.42,349.91 L341.37,350.24 L342.32,350.56 L343.27,350.88 L344.23,351.20 L345.18,351.52 L346.13,351.83 L347.09,352.14 L348.04,352.45 L349.00,352.76 L349.95,353.06 L350.91,353.36 L351.86,353.66 L352.82,353.95 L353.78,354.25 L354.74,354.54 L355.69,354.83 L356.65,355.11 L357.61,355.40 L358.57,355.68 L359.53,355.96 L360.49,356.24 L361.45,356.51 L362.41,356.78 L363.37,357.05 L364.34,357.32 L365.30,357.59 L366.26,357.85 L367.22,358.11 L368.19,358.37 L369.15,358.63 L370.12,358.88 L371.08,359.14 L372.05,359.39 L373.01,359.64 L373.98,359.88 L374.94,360.13 L375.91,360.37 L376.88,360.61 L377.85,360.85 L378.81,361.08 L379.78,361.31 L380.75,361.55 L381.72,361.77 L382.69,362.00 L383.66,362.23 L384.63,362.45 L385.60,362.67 L386.57,362.89 L387.54,363.11 L388.51,363.32 L389.49,363.53 L390.46,363.74 L391.43,363.95 L392.40,364.16 L393.38,364.36 L394.35,364.57 L395.33,364.77 L396.30,364.97 L397.28,365.16 L398.25,365.36 L399.23,365.55 L400.20,365.74 L401.18,365.93 L402.16,366.12 L403.13,366.31 L404.11,366.49 L405.09,366.67 L406.07,366.85 L407.04,367.03 L408.02,367.21 L409.00,367.38 L409.98,367.56 L410.96,367.73 L411.94,367.90 L412.92,368.06 L413.90,368.23 L414.88,368.39 L415.86,368.56 L416.84,368.72 L417.83,368.88 L418.81,369.03 L419.79,369.19 L420.77,369.34 L421.76,369.49 L422.74,369.64 L423.72,369.79 L424.71,369.94 L425.69,370.09 L426.68,370.23 L427.66,370.37 L428.65,370.51 L429.63,370.65 L430.62,370.79 L431.60,370.92 L432.59,371.06 L433.57,371.19 L434.56,371.32 L435.55,371.45 L436.53,371.58 L437.52,371.71 L438.51,371.83 L439.50,371.96 L440.49,372.08 L441.47,372.20 L442.46,372.32 L443.45,372.43 L444.44,372.55 L445.43,372.67 L446.42,372.78 L447.41,372.89 L448.40,373.00 L449.39,373.11 L450.38,373.22 L451.37,373.32 L452.36,373.43 L453.35,373.53 L454.34,373.63 L455.34,373.73 L456.33,373.83 L457.32,373.93 L458.31,374.03 L459.31,374.12 L460.30,374.22 L461.29,374.31 L462.28,374.40 L463.28,374.49 L464.27,374.58 L465.27,374.67 L466.26,374.76 L467.25,374.84 L468.25,374.93 L469.24,375.01 L470.24,375.09 L471.23,375.17 L472.23,375.25 L473.22,375.33 L474.22,375.41 L475.21,375.48 L476.21,375.56 L477.21,375.63 L478.20,375.70 L479.20,375.77 L480.20,375.84 L481.19,375.91 L482.19,375.98 L483.19,376.05 L484.18,376.11 L485.18,376.18 L486.18,376.24 L487.18,376.31 L488.17,376.37 L489.17,376.43 L490.17,376.49 L491.17,376.55 L492.17,376.60 L493.16,376.66 L494.16,376.72 L495.16,376.77 L496.16,376.83 L497.16,376.88 L498.16,376.93 L499.16,376.98 L500.16,377.03 L501.16,377.08 L502.16,377.13 L503.16,377.18 L504.16,377.22 L505.16,377.27 L506.16,377.32 L507.16,377.36 L508.16,377.40 L509.16,377.45 L510.16,377.49 L511.16,377.53 L512.16,377.57 L513.16,377.61 L514.16,377.65 L515.16,377.68 L516.17,377.72 L517.17,377.76 L518.17,377.79 L519.17,377.83 L520.17,377.86 L521.17,377.90 L522.18,377.93 L523.18,377.96 L524.18,377.99 L525.18,378.02 L526.18,378.05 L527.19,378.08 L528.19,378.11 L529.19,378.14 L530.19,378.17 L531.19,378.20 L532.20,378.22 L533.20,378.25 L534.20,378.27 L535.20,378.30 L536.21,378.32 L537.21,378.35 L538.21,378.37 L539.22,378.39 L540.22,378.41 L541.22,378.44 L542.22,378.46 L543.23,378.48 L544.23,378.50 L545.23,378.52 L546.24,378.54 L547.24,378.55 L548.24,378.57 L549.25,378.59 L550.25,378.61 L551.25,378.63 L552.25,378.64 L553.26,378.66 L554.26,378.67 L555.26,378.69 L556.27,378.71 L557.27,378.72 L558.27,378.74 L559.28,378.75 L560.28,378.76 L561.28,378.78 L562.29,378.79 L563.29,378.80 L564.29,378.82 L565.30,378.83 L566.30,378.84 L567.30,378.85 L568.31,378.86 L569.31,378.88 L570.31,378.89 L571.31,378.90 L572.32,378.91 L573.32,378.92 L574.32,378.93 L575.33,378.94 L576.33,378.95 L577.33,378.96 L578.34,378.97 L579.34,378.98 L580.34,378.99 L581.34,379.00 L582.35,379.01 L583.35,379.02 L584.35,379.03 L585.35,379.04 L586.36,379.05 L587.36,379.06 L588.36,379.07 L589.36,379.07 L590.37,379.08 L591.37,379.09 L592.37,379.10 L593.37,379.11 L594.37,379.12 L595.38,379.13 L596.38,379.14 L597.38,379.15 L598.38,379.16 L599.38,379.17 L600.38,379.18 L601.39,379.19 L602.39,379.19 L603.39,379.20 L604.39,379.21 L605.39,379.22 L606.39,379.23 L607.39,379.24 L608.39,379.25 L609.39,379.27 L610.39,379.28 L611.39,379.29 L612.39,379.30 L613.39,379.31 L614.39,379.32 L615.39,379.33 L616.39,379.34 L617.39,379.36 L618.39,379.37 L619.39,379.38 L620.39,379.40 L621.39,379.41 L622.39,379.42 L623.39,379.44 L624.39,379.45 L625.39,379.46 L626.39,379.48 L627.38,379.49 L628.38,379.51 L629.38,379.53 L630.38,379.54 L631.38,379.56 L632.37,379.58 L633.37,379.59 L634.37,379.61 L635.36,379.63 L636.36,379.65 L637.36,379.67 L638.36,379.69 L639.35,379.71 L640.35,379.73 L641.34,379.75 L642.34,379.77 L643.34,379.79 L644.33,379.82 L645.33,379.84 L646.32,379.86 L647.32,379.89 L648.31,379.91 L649.31,379.94 L650.30,379.96 L651.30,379.99 L652.29,380.02 L653.28,380.04 L654.28,380.07 L655.27,380.10 L656.26,380.13 L657.26,380.16 L658.25,380.19 L659.24,380.22 L660.23,380.25 L661.23,380.29 L662.22,380.32 L663.21,380.36 L664.20,380.39 L665.19,380.43 L666.18,380.46 L667.18,380.50 L668.17,380.54 L669.16,380.58 L670.15,380.61 L671.14,380.65 L672.13,380.70 L673.12,380.74 L674.11,380.78 L675.09,380.82 L676.08,380.87 L677.07,380.91 L678.06,380.96 L679.05,381.00 L680.04,381.05 L681.02,381.10 L682.01,381.15 L683.00,381.20" stroke="#fde6a0"/>
<path d="M130.70,378.41 L130.66,380.02 L130.79,381.33 L131.08,382.35 L131.51,383.12 L132.07,383.66 L132.75,383.99 L133.52,384.13 L134.38,384.11 L135.30,383.96 L136.28,383.68 L137.29,383.32 L138.33,382.89 L139.37,382.42 L140.41,381.93 L141.42,381.44 L142.39,380.95 L143.32,380.47 L144.20,379.96 L145.01,379.42 L145.75,378.84 L146.40,378.20 L146.96,377.49 L147.41,376.69 L147.78,375.82 L148.07,374.89 L148.32,373.93 L148.54,372.95 L148.75,371.97 L148.96,370.99 L149.15,370.01 L149.34,369.02 L149.53,368.04 L149.70,367.06 L149.88,366.08 L150.04,365.10 L150.20,364.12 L150.35,363.14 L150.50,362.16 L150.64,361.18 L150.78,360.20 L150.91,359.21 L151.04,358.23 L151.16,357.25 L151.28,356.27 L151.40,355.29 L151.51,354.30 L151.62,353.32 L151.73,352.34 L151.83,351.35 L151.93,350.37 L152.03,349.39 L152.13,348.40 L152.22,347.42 L152.31,346.43 L152.40,345.45 L152.49,344.46 L152.58,343.47 L152.67,342.49 L152.76,341.50 L152.85,340.51 L152.93,339.53 L153.02,338.54 L153.11,337.55 L153.19,336.56 L153.28,335.57 L153.37,334.58 L153.46,333.59 L153.56,332.59 L153.65,331.60 L153.75,330.61 L153.85,329.62 L153.95,328.62 L154.05,327.63 L154.16,326.63 L154.27,325.63 L154.38,324.64 L154.50,323.64 L154.62,322.64 L154.74,321.64 L154.87,320.64 L155.00,319.64 L155.14,318.64 L155.29,317.64 L155.43,316.63 L155.59,315.63 L155.75,314.62 L155.91,313.62 L156.08,312.61 L156.26,311.60 L156.45,310.59 L156.64,309.58 L156.84,308.57 L157.04,307.56 L157.25,306.55 L157.48,305.54 L157.70,304.52 L157.94,303.51 L158.19,302.49 L158.44,301.47 L158.70,300.45 L158.98,299.43 L159.26,298.41 L159.56,297.41 L159.88,296.42 L160.22,295.47 L160.59,294.57 L161.00,293.72 L161.45,292.93 L161.94,292.23 L162.48,291.61 L163.08,291.09 L163.74,290.68 L164.46,290.39 L165.25,290.23 L166.10,290.21 L167.01,290.30 L167.96,290.51 L168.93,290.82 L169.90,291.20 L170.85,291.66 L171.78,292.17 L172.67,292.73 L173.53,293.32 L174.35,293.95 L175.16,294.60 L175.94,295.26 L176.70,295.94 L177.46,296.62 L178.21,297.30 L178.96,297.97 L179.71,298.63 L180.47,299.26 L181.25,299.86 L182.04,300.43 L182.85,300.96 L183.69,301.43 L184.57,301.85 L185.48,302.21 L186.43,302.51 L187.40,302.74 L188.40,302.92 L189.42,303.04 L190.46,303.10 L191.50,303.11 L192.56,303.07 L193.61,302.98 L194.66,302.84 L195.71,302.66 L196.73,302.43 L197.75,302.15 L198.74,301.84 L199.70,301.49 L200.63,301.10 L201.52,300.68 L202.38,300.23 L203.21,299.74 L204.01,299.24 L204.80,298.72 L205.58,298.19 L206.36,297.66 L207.15,297.12 L207.96,296.59 L208.78,296.06 L209.61,295.54 L210.46,295.02 L211.32,294.52 L212.19,294.02 L213.08,293.53 L213.98,293.05 L214.89,292.58 L215.80,292.12 L216.73,291.68 L217.67,291.24 L218.61,290.83 L219.56,290.42 L220.52,290.03 L221.48,289.65 L222.45,289.30 L223.43,288.95 L224.40,288.63 L225.39,288.33 L226.37,288.04 L227.36,287.77 L228.34,287.53 L229.33,287.31 L230.32,287.10 L231.31,286.92 L232.30,286.77 L233.29,286.64 L234.27,286.53 L235.25,286.45 L236.23,286.40 L237.20,286.37 L238.17,286.36 L239.14,286.38 L240.11,286.42 L241.07,286.48 L242.03,286.57 L242.99,286.68 L243.94,286.80 L244.89,286.95 L245.84,287.12 L246.78,287.31 L247.73,287.52 L248.67,287.75 L249.60,287.99 L250.54,288.26 L251.47,288.54 L252.40,288.83 L253.33,289.14 L254.25,289.47 L255.17,289.82 L256.09,290.18 L257.01,290.55 L257.92,290.93 L258.84,291.33 L259.74,291.74 L260.65,292.17 L261.56,292.60 L262.46,293.05 L263.36,293.51 L264.25,293.98 L265.15,294.45 L266.04,294.94 L266.93,295.43 L267.82,295.94 L268.71,296.45 L269.59,296.96 L270.47,297.49 L271.35,298.02 L272.23,298.55 L273.10,299.09 L273.98,299.64 L274.85,300.19 L275.72,300.74 L276.58,301.30 L277.45,301.85 L278.31,302.42 L279.17,302.98 L280.03,303.54 L280.89,304.10 L281.75,304.67 L282.60,305.23 L283.45,305.79 L284.30,306.35 L285.15,306.91 L286.00,307.47 L286.84,308.02 L287.68,308.57 L288.53,309.12 L289.37,309.66 L290.20,310.19 L291.04,310.73 L291.88,311.26 L292.71,311.78 L293.55,312.31 L294.38,312.83 L295.21,313.35 L296.04,313.87 L296.87,314.38 L297.71,314.89 L298.54,315.41 L299.37,315.92 L300.20,316.43 L301.03,316.93 L301.86,317.44 L302.69,317.95 L303.52,318.46 L304.36,318.96 L305.19,319.47 L306.03,319.98 L306.86,320.49 L307.70,321.00 L308.54,321.51 L309.38,322.03 L310.22,322.54 L311.06,323.06 L311.91,323.57 L312.75,324.09 L313.60,324.60 L314.44,325.12 L315.29,325.63 L316.14,326.15 L317.00,326.66 L317.85,327.18 L318.70,327.69 L319.56,328.21 L320.41,328.72 L321.27,329.24 L322.13,329.75 L322.99,330.26 L323.86,330.77 L324.72,331.28 L325.59,331.79 L326.45,332.29 L327.32,332.80 L328.19,333.30 L329.06,333.80 L329.93,334.30 L330.81,334.80 L331.68,335.30 L332.56,335.79 L333.44,336.28 L334.32,336.77 L335.20,337.25 L336.08,337.74 L336.97,338.22 L337.85,338.70 L338.74,339.17 L339.63,339.64 L340.52,340.11 L341.41,340.57 L342.31,341.03 L343.20,341.49 L344.10,341.95 L345.00,342.39 L345.90,342.84 L346.80,343.28 L347.70,343.72 L348.61,344.15 L349.51,344.58 L350.42,345.01 L351.33,345.43 L352.24,345.84 L353.16,346.26 L354.07,346.67 L354.99,347.07 L355.91,347.47 L356.83,347.87 L357.75,348.26 L358.67,348.65 L359.59,349.03 L360.52,349.41 L361.44,349.79 L362.37,350.16 L363.30,350.53 L364.23,350.90 L365.16,351.26 L366.09,351.62 L367.03,351.98 L367.96,352.33 L368.90,352.67 L369.84,353.02 L370.78,353.36 L371.72,353.69 L372.66,354.03 L373.60,354.36 L374.55,354.68 L375.49,355.01 L376.44,355.33 L377.39,355.64 L378.34,355.96 L379.29,356.27 L380.24,356.57 L381.19,356.88 L382.14,357.18 L383.09,357.47 L384.05,357.77 L385.00,358.06 L385.96,358.35 L386.92,358.63 L387.88,358.91 L388.84,359.19 L389.80,359.47 L390.76,359.74 L391.72,360.01 L392.68,360.28 L393.65,360.54 L394.61,360.80 L395.58,361.06 L396.54,361.31 L397.51,361.57 L398.48,361.82 L399.44,362.06 L400.41,362.31 L401.38,362.55 L402.35,362.79 L403.32,363.03 L404.29,363.26 L405.27,363.49 L406.24,363.72 L407.21,363.95 L408.19,364.18 L409.16,364.40 L410.14,364.62 L411.11,364.83 L412.09,365.05 L413.06,365.26 L414.04,365.47 L415.02,365.68 L416.00,365.89 L416.97,366.09 L417.95,366.29 L418.93,366.49 L419.91,366.69 L420.89,366.89 L421.87,367.08 L422.85,367.27 L423.83,367.46 L424.81,367.65 L425.79,367.83 L426.77,368.02 L427.76,368.20 L428.74,368.38 L429.72,368.56 L430.70,368.73 L431.69,368.91 L432.67,369.08 L433.65,369.25 L434.64,369.42 L435.62,369.59 L436.60,369.75 L437.59,369.91 L438.57,370.08 L439.56,370.24 L440.54,370.39 L441.53,370.55 L442.51,370.70 L443.50,370.86 L444.48,371.01 L445.47,371.16 L446.46,371.30 L447.44,371.45 L448.43,371.59 L449.42,371.74 L450.41,371.88 L451.39,372.02 L452.38,372.15 L453.37,372.29 L454.36,372.42 L455.35,372.56 L456.34,372.69 L457.32,372.82 L458.31,372.94 L459.30,373.07 L460.29,373.19 L461.28,373.32 L462.27,373.44 L463.26,373.56 L464.25,373.68 L465.24,373.79 L466.24,373.91 L467.23,374.02 L468.22,374.13 L469.21,374.25 L470.20,374.36 L471.19,374.46 L472.19,374.57 L473.18,374.67 L474.17,374.78 L475.16,374.88 L476.16,374.98 L477.15,375.08 L478.14,375.18 L479.14,375.28 L480.13,375.37 L481.12,375.47 L482.12,375.56 L483.11,375.65 L484.11,375.74 L485.10,375.83 L486.09,375.92 L487.09,376.00 L488.08,376.09 L489.08,376.17 L490.07,376.25 L491.07,376.34 L492.07,376.42 L493.06,376.49 L494.06,376.57 L495.05,376.65 L496.05,376.72 L497.05,376.80 L498.04,376.87 L499.04,376.94 L500.04,377.01 L501.03,377.08 L502.03,377.15 L503.03,377.22 L504.02,377.28 L505.02,377.35 L506.02,377.41 L507.02,377.48 L508.02,377.54 L509.01,377.60 L510.01,377.66 L511.01,377.72 L512.01,377.77 L513.01,377.83 L514.01,377.89 L515.00,377.94 L516.00,378.00 L517.00,378.05 L518.00,378.10 L519.00,378.15 L520.00,378.20 L521.00,378.25 L522.00,378.30 L523.00,378.35 L524.00,378.39 L525.00,378.44 L526.00,378.48 L527.00,378.53 L528.00,378.57 L529.00,378.61 L530.00,378.65 L531.00,378.69 L532.00,378.73 L533.00,378.77 L534.00,378.81 L535.00,378.85 L536.00,378.88 L537.00,378.92 L538.00,378.96 L539.00,378.99 L540.01,379.02 L541.01,379.06 L542.01,379.09 L543.01,379.12 L544.01,379.15 L545.01,379.18 L546.01,379.21 L547.01,379.24 L548.02,379.27 L549.02,379.30 L550.02,379.32 L551.02,379.35 L552.02,379.38 L553.02,379.40 L554.03,379.43 L555.03,379.45 L556.03,379.48 L557.03,379.50 L558.03,379.52 L559.04,379.54 L560.04,379.57 L561.04,379.59 L562.04,379.61 L563.05,379.63 L564.05,379.65 L565.05,379.67 L566.05,379.69 L567.05,379.70 L568.06,379.72 L569.06,379.74 L570.06,379.76 L571.06,379.77 L572.07,379.79 L573.07,379.81 L574.07,379.82 L575.07,379.84 L576.08,379.85 L577.08,379.87 L578.08,379.88 L579.08,379.90 L580.09,379.91 L581.09,379.92 L582.09,379.94 L583.09,379.95 L584.10,379.96 L585.10,379.98 L586.10,379.99 L587.10,380.00 L588.11,380.01 L589.11,380.03 L590.11,380.04 L591.11,380.05 L592.11,380.06 L593.12,380.07 L594.12,380.08 L595.12,380.09 L596.12,380.10 L597.13,380.11 L598.13,380.12 L599.13,380.14 L600.13,380.15 L601.13,380.16 L602.14,380.17 L603.14,380.18 L604.14,380.19 L605.14,380.20 L606.14,380.21 L607.15,380.22 L608.15,380.23 L609.15,380.24 L610.15,380.25 L611.15,380.26 L612.15,380.27 L613.15,380.28 L614.16,380.29 L615.16,380.30 L616.16,380.31 L617.16,380.32 L618.16,380.33 L619.16,380.34 L620.16,380.35 L621.16,380.37 L622.16,380.38 L623.17,380.39 L624.17,380.40 L625.17,380.41 L626.17,380.42 L627.17,380.44 L628.17,380.45 L629.17,380.46 L630.17,380.48 L631.17,380.49 L632.17,380.50 L633.17,380.52 L634.17,380.53 L635.17,380.55 L636.17,380.56 L637.17,380.58 L638.17,380.59 L639.16,380.61 L640.16,380.62 L641.16,380.64 L642.16,380.66 L643.16,380.67 L644.16,380.69 L645.16,380.71 L646.16,380.73 L647.15,380.75 L648.15,380.77 L649.15,380.79 L650.15,380.81 L651.15,380.83 L652.14,380.85 L653.14,380.87 L654.14,380.89 L655.14,380.91 L656.13,380.94 L657.13,380.96 L658.13,380.99 L659.12,381.01 L660.12,381.04 L661.12,381.06 L662.11,381.09 L663.11,381.12 L664.11,381.14 L665.10,381.17 L666.10,381.20 L667.09,381.23 L668.09,381.26 L669.08,381.29 L670.08,381.32 L671.07,381.36 L672.07,381.39 L673.06,381.42 L674.06,381.46 L675.05,381.49 L676.05,381.53 L677.04,381.57 L678.03,381.60 L679.03,381.64 L680.02,381.68 L681.01,381.72 L682.01,381.76 L683.00,381.80" stroke="#fdbf6c"/>
<path d="M130.90,383.70 L131.63,383.01 L132.38,382.34 L133.15,381.71 L133.94,381.11 L134.74,380.55 L135.58,380.03 L136.44,379.55 L137.33,379.12 L138.25,378.72 L139.20,378.38 L140.19,378.09 L141.22,377.84 L142.29,377.65 L143.36,377.48 L144.40,377.29 L145.37,377.04 L146.23,376.69 L146.95,376.20 L147.50,375.56 L147.93,374.80 L148.26,373.94 L148.53,373.03 L148.76,372.08 L148.98,371.11 L149.20,370.15 L149.42,369.19 L149.65,368.22 L149.87,367.25 L150.09,366.28 L150.31,365.31 L150.53,364.33 L150.74,363.36 L150.96,362.38 L151.18,361.40 L151.39,360.42 L151.61,359.44 L151.82,358.46 L152.04,357.48 L152.25,356.49 L152.46,355.51 L152.67,354.52 L152.88,353.54 L153.08,352.55 L153.29,351.56 L153.49,350.57 L153.70,349.59 L153.90,348.60 L154.10,347.61 L154.30,346.62 L154.49,345.63 L154.69,344.64 L154.88,343.65 L155.07,342.67 L155.26,341.68 L155.45,340.69 L155.63,339.70 L155.82,338.72 L156.00,337.73 L156.18,336.75 L156.36,335.76 L156.53,334.78 L156.71,333.80 L156.88,332.82 L157.04,331.84 L157.21,330.86 L157.37,329.89 L157.53,328.91 L157.69,327.94 L157.85,326.97 L158.00,326.00 L158.15,325.03 L158.30,324.06 L158.45,323.10 L158.59,322.14 L158.73,321.18 L158.86,320.22 L159.00,319.27 L159.13,318.31 L159.26,317.36 L159.39,316.40 L159.52,315.44 L159.65,314.48 L159.79,313.50 L159.93,312.53 L160.07,311.54 L160.22,310.54 L160.37,309.52 L160.54,308.50 L160.71,307.45 L160.89,306.39 L161.08,305.32 L161.28,304.22 L161.49,303.11 L161.73,302.01 L162.00,300.93 L162.31,299.88 L162.66,298.89 L163.05,297.96 L163.50,297.11 L164.02,296.36 L164.60,295.72 L165.24,295.19 L165.94,294.78 L166.68,294.49 L167.45,294.30 L168.24,294.23 L169.04,294.26 L169.85,294.41 L170.64,294.66 L171.42,295.02 L172.17,295.48 L172.89,296.04 L173.59,296.69 L174.27,297.41 L174.94,298.19 L175.59,299.02 L176.23,299.90 L176.87,300.80 L177.51,301.73 L178.15,302.67 L178.79,303.60 L179.44,304.53 L180.11,305.43 L180.79,306.30 L181.49,307.13 L182.20,307.92 L182.94,308.67 L183.69,309.37 L184.46,310.03 L185.24,310.66 L186.04,311.24 L186.85,311.79 L187.68,312.29 L188.52,312.76 L189.37,313.19 L190.23,313.59 L191.11,313.95 L191.99,314.27 L192.89,314.55 L193.79,314.80 L194.70,315.02 L195.62,315.20 L196.55,315.35 L197.48,315.46 L198.42,315.54 L199.36,315.59 L200.31,315.61 L201.26,315.59 L202.21,315.55 L203.17,315.47 L204.13,315.37 L205.09,315.23 L206.05,315.07 L207.01,314.88 L207.97,314.66 L208.92,314.41 L209.88,314.14 L210.84,313.85 L211.79,313.54 L212.75,313.21 L213.71,312.85 L214.66,312.49 L215.62,312.11 L216.57,311.71 L217.52,311.31 L218.48,310.90 L219.43,310.47 L220.39,310.05 L221.34,309.62 L222.29,309.18 L223.25,308.75 L224.20,308.31 L225.16,307.88 L226.11,307.45 L227.06,307.03 L228.02,306.62 L228.97,306.21 L229.93,305.82 L230.89,305.43 L231.84,305.07 L232.80,304.71 L233.76,304.38 L234.72,304.06 L235.68,303.77 L236.64,303.49 L237.60,303.23 L238.56,303.00 L239.52,302.78 L240.48,302.58 L241.45,302.40 L242.41,302.24 L243.37,302.09 L244.34,301.96 L245.30,301.85 L246.27,301.76 L247.23,301.68 L248.20,301.63 L249.16,301.58 L250.13,301.55 L251.09,301.54 L252.06,301.55 L253.03,301.57 L253.99,301.60 L254.96,301.65 L255.93,301.71 L256.89,301.79 L257.86,301.88 L258.82,301.98 L259.79,302.10 L260.76,302.23 L261.72,302.38 L262.69,302.53 L263.65,302.70 L264.62,302.88 L265.58,303.07 L266.54,303.28 L267.51,303.49 L268.47,303.72 L269.43,303.95 L270.40,304.20 L271.36,304.45 L272.32,304.72 L273.28,304.99 L274.24,305.28 L275.20,305.57 L276.16,305.87 L277.11,306.18 L278.07,306.50 L279.03,306.83 L279.98,307.16 L280.94,307.51 L281.89,307.85 L282.84,308.21 L283.79,308.57 L284.74,308.94 L285.69,309.31 L286.64,309.69 L287.59,310.08 L288.53,310.47 L289.48,310.86 L290.42,311.26 L291.36,311.66 L292.30,312.07 L293.24,312.48 L294.18,312.90 L295.12,313.32 L296.05,313.74 L296.99,314.16 L297.92,314.59 L298.85,315.02 L299.78,315.45 L300.71,315.88 L301.63,316.31 L302.56,316.75 L303.48,317.18 L304.40,317.62 L305.32,318.06 L306.24,318.49 L307.15,318.93 L308.07,319.36 L308.98,319.80 L309.89,320.23 L310.80,320.67 L311.71,321.10 L312.61,321.53 L313.52,321.96 L314.42,322.40 L315.32,322.83 L316.22,323.26 L317.12,323.69 L318.02,324.12 L318.92,324.54 L319.82,324.97 L320.71,325.40 L321.61,325.82 L322.50,326.25 L323.40,326.67 L324.29,327.09 L325.19,327.52 L326.08,327.94 L326.97,328.36 L327.87,328.77 L328.76,329.19 L329.65,329.61 L330.54,330.02 L331.44,330.44 L332.33,330.85 L333.22,331.26 L334.12,331.67 L335.01,332.08 L335.91,332.48 L336.80,332.89 L337.70,333.29 L338.59,333.69 L339.49,334.09 L340.39,334.49 L341.29,334.89 L342.19,335.29 L343.09,335.68 L343.99,336.07 L344.90,336.46 L345.80,336.85 L346.71,337.24 L347.61,337.62 L348.52,338.00 L349.43,338.38 L350.35,338.76 L351.26,339.14 L352.18,339.52 L353.09,339.89 L354.01,340.26 L354.94,340.63 L355.86,340.99 L356.78,341.36 L357.71,341.72 L358.64,342.08 L359.57,342.44 L360.50,342.79 L361.44,343.14 L362.37,343.49 L363.31,343.84 L364.25,344.19 L365.19,344.53 L366.13,344.88 L367.08,345.21 L368.02,345.55 L368.97,345.89 L369.91,346.22 L370.86,346.55 L371.81,346.88 L372.76,347.20 L373.72,347.52 L374.67,347.84 L375.63,348.16 L376.58,348.48 L377.54,348.79 L378.50,349.10 L379.46,349.41 L380.41,349.71 L381.38,350.02 L382.34,350.32 L383.30,350.61 L384.26,350.91 L385.23,351.20 L386.19,351.49 L387.16,351.78 L388.12,352.06 L389.09,352.35 L390.06,352.63 L391.02,352.90 L391.99,353.18 L392.96,353.45 L393.93,353.72 L394.90,353.98 L395.87,354.25 L396.84,354.51 L397.81,354.77 L398.78,355.02 L399.75,355.27 L400.72,355.52 L401.69,355.77 L402.67,356.02 L403.64,356.26 L404.61,356.50 L405.59,356.74 L406.56,356.97 L407.53,357.21 L408.51,357.44 L409.48,357.67 L410.46,357.89 L411.43,358.12 L412.41,358.34 L413.39,358.56 L414.36,358.77 L415.34,358.99 L416.32,359.20 L417.29,359.41 L418.27,359.62 L419.25,359.82 L420.23,360.03 L421.21,360.23 L422.19,360.43 L423.17,360.62 L424.15,360.82 L425.13,361.01 L426.11,361.20 L427.09,361.39 L428.07,361.58 L429.05,361.76 L430.03,361.95 L431.01,362.13 L431.99,362.31 L432.98,362.48 L433.96,362.66 L434.94,362.83 L435.92,363.01 L436.91,363.18 L437.89,363.34 L438.87,363.51 L439.86,363.68 L440.84,363.84 L441.83,364.00 L442.81,364.16 L443.80,364.32 L444.78,364.47 L445.77,364.63 L446.75,364.78 L447.74,364.93 L448.73,365.08 L449.71,365.23 L450.70,365.38 L451.69,365.53 L452.67,365.67 L453.66,365.81 L454.65,365.95 L455.63,366.09 L456.62,366.23 L457.61,366.37 L458.60,366.51 L459.59,366.64 L460.58,366.77 L461.56,366.91 L462.55,367.04 L463.54,367.17 L464.53,367.30 L465.52,367.42 L466.51,367.55 L467.50,367.67 L468.49,367.80 L469.48,367.92 L470.47,368.04 L471.46,368.16 L472.45,368.28 L473.44,368.40 L474.43,368.52 L475.43,368.63 L476.42,368.75 L477.41,368.86 L478.40,368.98 L479.39,369.09 L480.38,369.20 L481.38,369.31 L482.37,369.42 L483.36,369.53 L484.35,369.63 L485.34,369.74 L486.34,369.85 L487.33,369.95 L488.32,370.05 L489.32,370.16 L490.31,370.26 L491.30,370.36 L492.30,370.46 L493.29,370.55 L494.28,370.65 L495.28,370.75 L496.27,370.84 L497.27,370.94 L498.26,371.03 L499.25,371.13 L500.25,371.22 L501.24,371.31 L502.24,371.40 L503.23,371.49 L504.23,371.58 L505.22,371.67 L506.22,371.75 L507.21,371.84 L508.21,371.92 L509.20,372.01 L510.20,372.09 L511.20,372.18 L512.19,372.26 L513.19,372.34 L514.18,372.42 L515.18,372.50 L516.18,372.58 L517.17,372.65 L518.17,372.73 L519.16,372.81 L520.16,372.88 L521.16,372.96 L522.15,373.03 L523.15,373.11 L524.15,373.18 L525.15,373.25 L526.14,373.32 L527.14,373.39 L528.14,373.46 L529.13,373.53 L530.13,373.60 L531.13,373.66 L532.13,373.73 L533.13,373.80 L534.12,373.86 L535.12,373.93 L536.12,373.99 L537.12,374.05 L538.12,374.12 L539.11,374.18 L540.11,374.24 L541.11,374.30 L542.11,374.36 L543.11,374.42 L544.11,374.48 L545.10,374.54 L546.10,374.59 L547.10,374.65 L548.10,374.71 L549.10,374.76 L550.10,374.82 L551.10,374.87 L552.10,374.93 L553.10,374.98 L554.09,375.03 L555.09,375.08 L556.09,375.14 L557.09,375.19 L558.09,375.24 L559.09,375.29 L560.09,375.34 L561.09,375.39 L562.09,375.43 L563.09,375.48 L564.09,375.53 L565.09,375.58 L566.09,375.62 L567.09,375.67 L568.09,375.71 L569.09,375.76 L570.09,375.80 L571.09,375.85 L572.09,375.89 L573.09,375.93 L574.09,375.97 L575.09,376.02 L576.09,376.06 L577.09,376.10 L578.09,376.14 L579.09,376.18 L580.09,376.22 L581.09,376.26 L582.09,376.30 L583.09,376.34 L584.09,376.38 L585.09,376.41 L586.09,376.45 L587.09,376.49 L588.09,376.53 L589.09,376.56 L590.09,376.60 L591.09,376.63 L592.09,376.67 L593.09,376.70 L594.09,376.74 L595.09,376.77 L596.09,376.81 L597.09,376.84 L598.09,376.87 L599.09,376.91 L600.09,376.94 L601.09,376.97 L602.09,377.00 L603.09,377.04 L604.09,377.07 L605.09,377.10 L606.10,377.13 L607.10,377.16 L608.10,377.19 L609.10,377.22 L610.10,377.25 L611.10,377.28 L612.10,377.31 L613.10,377.34 L614.10,377.37 L615.10,377.40 L616.10,377.43 L617.10,377.46 L618.10,377.48 L619.10,377.51 L620.10,377.54 L621.10,377.57 L622.10,377.60 L623.10,377.62 L624.10,377.65 L625.10,377.68 L626.10,377.71 L627.10,377.73 L628.10,377.76 L629.10,377.79 L630.10,377.81 L631.10,377.84 L632.10,377.86 L633.10,377.89 L634.10,377.92 L635.09,377.94 L636.09,377.97 L637.09,377.99 L638.09,378.02 L639.09,378.05 L640.09,378.07 L641.09,378.10 L642.09,378.12 L643.09,378.15 L644.09,378.17 L645.09,378.20 L646.09,378.23 L647.09,378.25 L648.08,378.28 L649.08,378.30 L650.08,378.33 L651.08,378.35 L652.08,378.38 L653.08,378.40 L654.08,378.43 L655.07,378.45 L656.07,378.48 L657.07,378.50 L658.07,378.53 L659.07,378.56 L660.07,378.58 L661.06,378.61 L662.06,378.63 L663.06,378.66 L664.06,378.68 L665.05,378.71 L666.05,378.74 L667.05,378.76 L668.05,378.79 L669.04,378.82 L670.04,378.84 L671.04,378.87 L672.04,378.90 L673.03,378.92 L674.03,378.95 L675.03,378.98 L676.02,379.00 L677.02,379.03 L678.02,379.06 L679.01,379.09 L680.01,379.12 L681.01,379.14 L682.00,379.17 L683.00,379.20" stroke="#c3121f"/>
</g>
</svg>
</body></html>
